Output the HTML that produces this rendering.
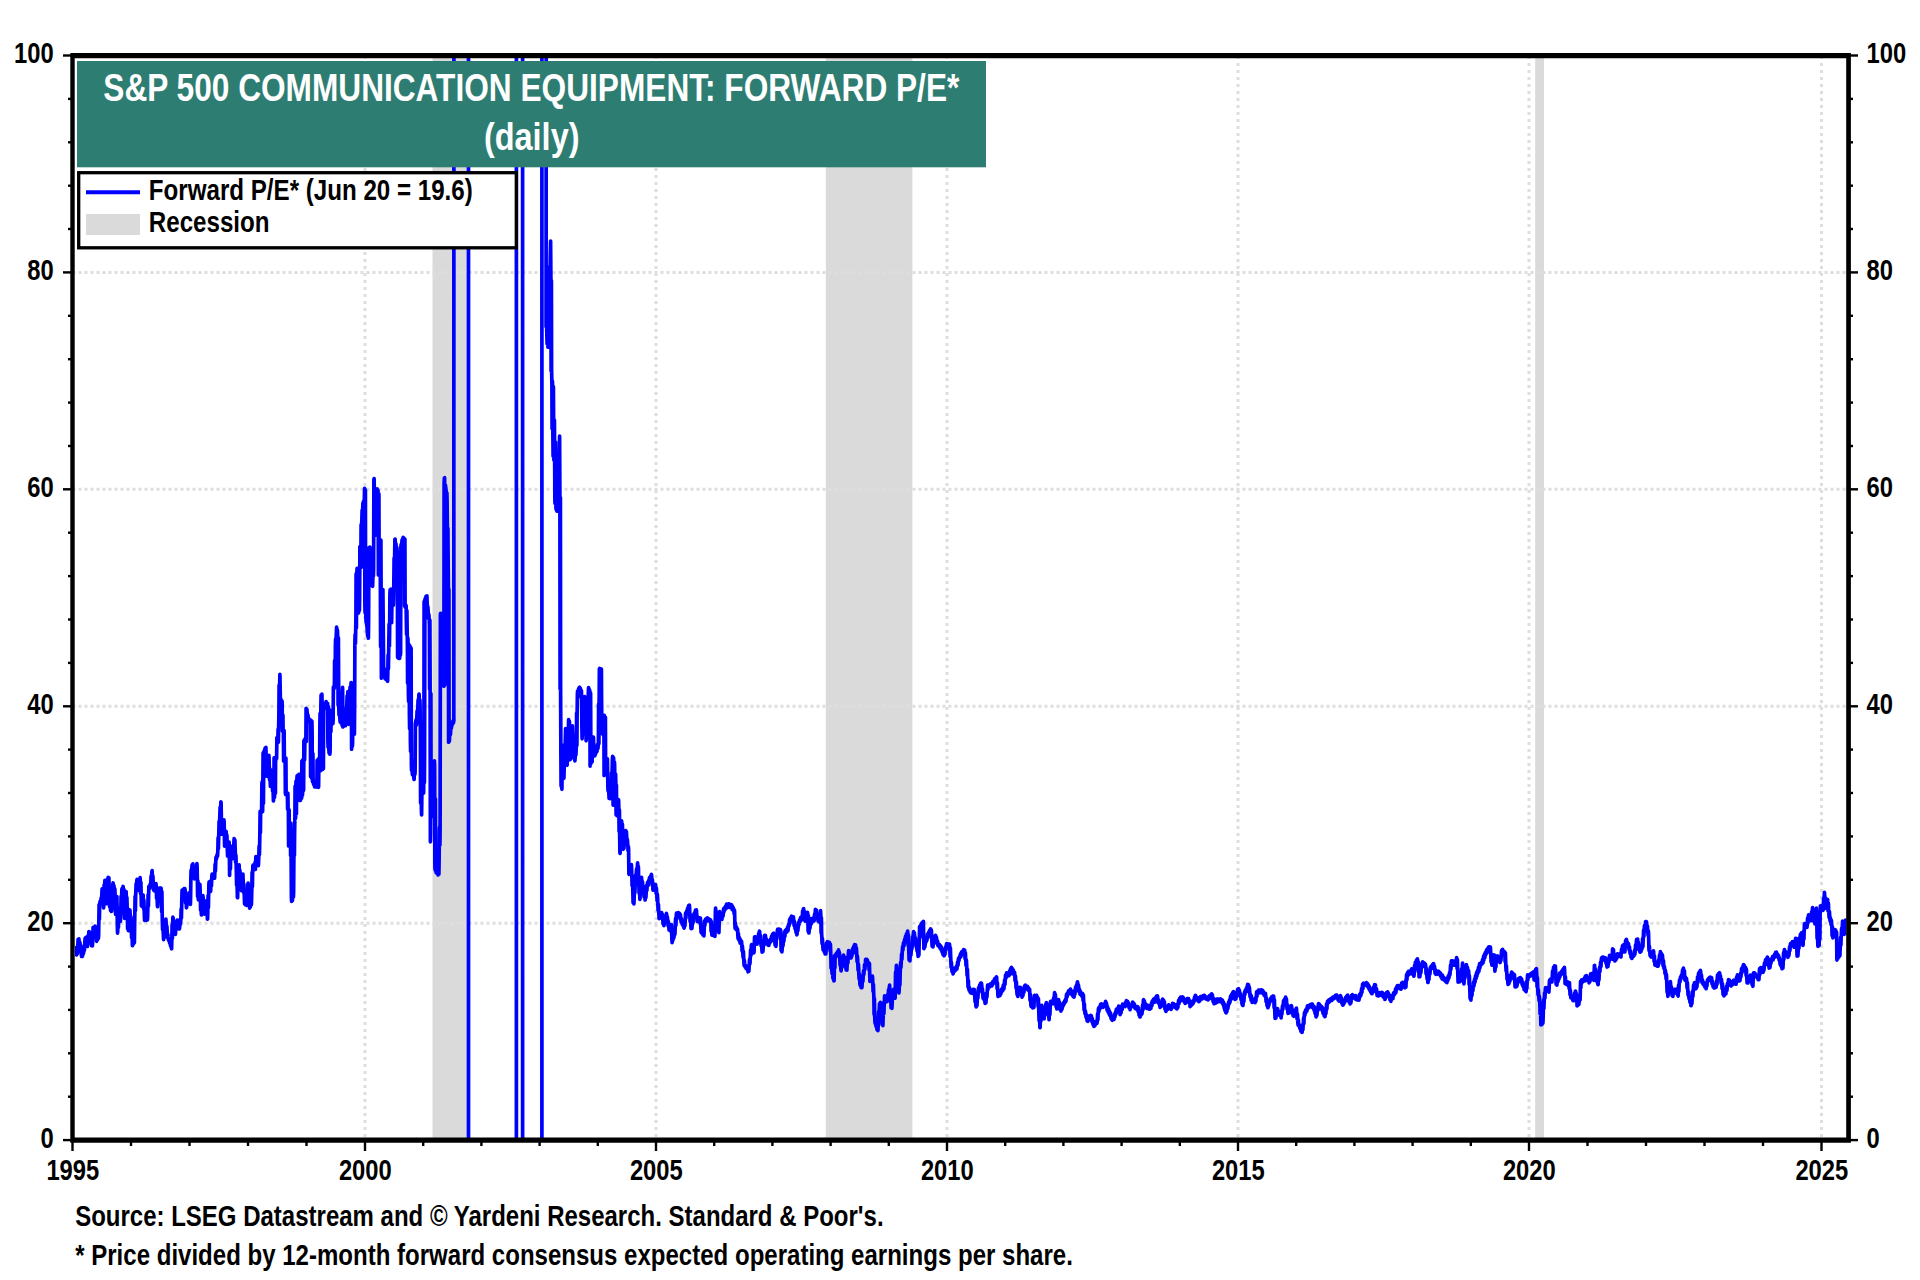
<!DOCTYPE html>
<html><head><meta charset="utf-8"><title>S&amp;P 500 Communication Equipment: Forward P/E</title>
<style>html,body{margin:0;padding:0;background:#fff}svg{display:block}</style></head>
<body>
<svg width="1920" height="1280" viewBox="0 0 1920 1280">
<rect width="1920" height="1280" fill="#fff"/>
<rect x="432.5" y="58" width="36.1" height="1080" fill="#dadada"/>
<rect x="825.8" y="58" width="86.6" height="1080" fill="#dadada"/>
<rect x="1535.2" y="58" width="8.8" height="1080" fill="#dadada"/>
<g stroke="#dedede" stroke-width="3" stroke-dasharray="3 4"><line stroke-dasharray="3 3" x1="72.5" x2="1846" y1="923.2" y2="923.2"/><line stroke-dasharray="3 3" x1="72.5" x2="1846" y1="706.3" y2="706.3"/><line stroke-dasharray="3 3" x1="72.5" x2="1846" y1="489.3" y2="489.3"/><line stroke-dasharray="3 3" x1="72.5" x2="1846" y1="272.4" y2="272.4"/><line x1="365.0" x2="365.0" y1="56.1" y2="1138"/><line x1="656.0" x2="656.0" y1="56.1" y2="1138"/><line x1="947.0" x2="947.0" y1="56.1" y2="1138"/><line x1="1238.0" x2="1238.0" y1="56.1" y2="1138"/><line x1="1529.0" x2="1529.0" y1="56.1" y2="1138"/><line x1="1821.5" x2="1821.5" y1="56.1" y2="1138"/></g>
<clipPath id="plot"><rect x="75" y="58" width="1771.5" height="1080"/></clipPath>
<polyline clip-path="url(#plot)" fill="none" stroke="#0000ff" stroke-width="3.7" stroke-linejoin="round" stroke-linecap="round" points="74.6,949.3 74.9,947.5 75.1,948.2 75.4,950.1 75.6,950.9 75.9,949.6 76.1,950.8 76.4,952.3 76.6,954.8 76.9,951.5 77.1,948.5 77.4,953.6 77.6,949.8 77.9,944.6 78.1,939.4 78.4,944.7 78.6,941.4 78.9,938.8 79.1,940.8 79.4,944.5 79.6,946.0 79.9,942.3 80.1,943.7 80.4,947.8 80.6,951.5 80.9,946.9 81.1,950.4 81.4,955.3 81.6,956.5 81.9,953.6 82.1,952.9 82.4,956.4 82.6,955.2 82.9,952.1 83.1,950.7 83.4,953.8 83.6,952.5 83.9,950.1 84.1,945.7 84.4,950.4 84.6,947.7 84.9,941.7 85.1,938.3 85.4,943.1 85.6,939.8 85.9,937.3 86.1,938.5 86.4,942.4 86.6,945.9 86.9,941.5 87.1,941.5 87.4,946.5 87.6,944.2 87.9,938.5 88.1,935.6 88.4,940.4 88.6,936.1 88.9,931.5 89.1,931.5 89.4,935.2 89.6,937.1 89.9,932.5 90.1,936.1 90.4,939.9 90.6,943.0 90.9,939.1 91.1,941.4 91.4,944.2 91.6,945.7 91.9,942.3 92.1,942.7 92.4,945.8 92.6,943.4 92.9,933.5 93.1,927.3 93.4,936.4 93.6,929.0 93.9,927.8 94.1,927.2 94.4,928.3 94.6,928.6 94.9,926.6 95.1,926.2 95.4,929.3 95.6,933.4 95.9,927.3 96.1,931.5 96.4,936.3 96.6,941.3 96.9,935.3 97.1,937.3 97.4,940.0 97.6,938.9 97.9,935.8 98.1,934.9 98.4,938.3 98.6,935.7 98.9,918.2 99.1,904.6 99.4,919.3 99.6,905.8 99.9,902.9 100.1,901.3 100.4,903.6 100.6,902.9 100.9,900.8 101.1,898.1 101.4,902.1 101.6,899.3 101.9,893.1 102.1,888.9 102.4,894.9 102.6,897.6 102.9,889.1 103.1,896.3 103.4,905.7 103.6,907.9 103.9,896.0 104.1,885.0 104.4,897.8 104.6,886.4 104.9,880.4 105.1,885.3 105.4,893.7 105.6,901.1 105.9,892.4 106.1,896.0 106.4,903.8 106.6,897.5 106.9,883.2 107.1,879.7 107.4,885.5 107.6,881.5 107.9,878.9 108.1,877.4 108.4,879.2 108.6,888.9 108.9,877.8 109.1,886.2 109.4,898.2 109.6,906.7 109.9,897.9 110.1,903.8 110.4,908.3 110.6,910.5 110.9,906.6 111.1,909.3 111.4,911.4 111.6,910.0 111.9,898.8 112.1,890.4 112.4,900.9 112.6,893.2 112.9,883.8 113.1,883.0 113.4,886.8 113.6,888.1 113.9,885.5 114.1,887.3 114.4,889.9 114.6,899.8 114.9,889.1 115.1,898.8 115.4,911.2 115.6,914.3 115.9,906.6 116.1,897.0 116.4,906.5 116.6,912.1 116.9,896.5 117.1,910.4 117.4,928.4 117.6,933.2 117.9,926.4 118.1,919.4 118.4,927.5 118.6,920.2 118.9,912.7 119.1,908.5 119.4,913.1 119.6,918.0 119.9,912.3 120.1,914.6 120.4,921.3 120.6,916.8 120.9,906.5 121.1,896.3 121.4,907.4 121.6,897.3 121.9,889.2 122.1,888.6 122.4,889.9 122.6,889.6 122.9,887.4 123.1,886.5 123.4,890.5 123.6,902.1 123.9,889.4 124.1,899.7 124.4,913.9 124.6,918.5 124.9,911.6 125.1,903.5 125.4,913.4 125.6,905.0 125.9,895.5 126.1,891.7 126.4,898.1 126.6,908.4 126.9,897.5 127.1,906.0 127.4,918.2 127.6,928.6 127.9,917.5 128.1,922.7 128.4,930.6 128.6,924.8 128.9,915.0 129.1,909.6 129.4,915.9 129.6,914.7 129.9,910.2 130.1,913.3 130.4,918.3 130.6,923.1 130.9,916.9 131.1,921.4 131.4,930.7 131.6,937.7 131.9,928.0 132.1,935.7 132.4,945.7 132.6,944.2 132.9,942.4 133.1,940.9 133.4,944.3 133.6,943.0 133.9,942.7 134.1,926.9 134.4,942.7 134.6,927.0 134.9,908.7 135.1,896.4 135.4,910.8 135.6,896.8 135.9,890.3 136.1,883.9 136.4,891.0 136.6,884.6 136.9,879.9 137.1,879.4 137.4,883.4 137.6,886.0 137.9,883.0 138.1,884.7 138.4,888.8 138.6,890.3 138.9,886.2 139.1,883.3 139.4,889.5 139.6,884.7 139.9,880.5 140.1,877.5 140.4,883.7 140.6,893.8 140.9,882.3 141.1,892.9 141.4,905.9 141.6,906.0 141.9,901.0 142.1,899.4 142.4,902.7 142.6,900.3 142.9,895.3 143.1,894.9 143.4,902.1 143.6,908.8 143.9,900.2 144.1,907.7 144.4,916.8 144.6,920.3 144.9,915.7 145.1,919.0 145.4,919.1 145.6,919.8 145.9,918.0 146.1,918.0 146.4,920.3 146.6,919.7 146.9,918.9 147.1,915.1 147.4,919.9 147.6,917.0 147.9,905.3 148.1,894.9 148.4,906.2 148.6,896.0 148.9,886.3 149.1,886.9 149.4,888.2 149.6,888.4 149.9,886.3 150.1,884.3 150.4,887.0 150.6,885.9 150.9,880.8 151.1,876.1 151.4,881.4 151.6,876.5 151.9,871.5 152.1,870.5 152.4,876.9 152.6,882.8 152.9,876.2 153.1,880.7 153.4,888.5 153.6,890.0 153.9,886.9 154.1,886.0 154.4,890.8 154.6,887.2 154.9,885.5 155.1,884.0 155.4,886.9 155.6,885.2 155.9,883.5 156.1,884.9 156.4,892.2 156.6,898.4 156.9,890.8 157.1,897.1 157.4,905.4 157.6,906.6 157.9,899.1 158.1,894.3 158.4,901.2 158.6,895.5 158.9,890.1 159.1,888.2 159.4,890.0 159.6,890.5 159.9,888.4 160.1,888.1 160.4,890.2 160.6,889.7 160.9,888.1 161.1,888.3 161.4,893.8 161.6,911.7 161.9,891.6 162.1,910.1 162.4,923.3 162.6,929.8 162.9,921.0 163.1,928.5 163.4,936.2 163.6,939.7 163.9,935.9 164.1,931.7 164.4,937.5 164.6,932.9 164.9,925.3 165.1,920.6 165.4,927.7 165.6,923.7 165.9,919.0 166.1,922.2 166.4,927.0 166.6,931.6 166.9,926.3 167.1,930.7 167.4,935.0 167.6,937.6 167.9,934.6 168.1,937.0 168.4,939.5 168.6,940.3 168.9,938.5 169.1,938.7 169.4,941.4 169.6,943.1 169.9,940.0 170.1,941.4 170.4,944.7 170.6,946.1 170.9,943.1 171.1,945.6 171.4,948.0 171.6,948.8 171.9,936.7 172.1,924.8 172.4,938.5 172.6,925.6 172.9,917.1 173.1,918.0 173.4,923.2 173.6,927.1 173.9,922.9 174.1,926.2 174.4,930.8 174.6,934.2 174.9,928.3 175.1,929.7 175.4,934.5 175.6,931.3 175.9,926.7 176.1,923.3 176.4,928.8 176.6,924.8 176.9,921.0 177.1,920.2 177.4,922.8 177.6,924.5 177.9,920.4 178.1,923.8 178.4,925.7 178.6,929.0 178.9,924.7 179.1,927.1 179.4,929.0 179.6,927.9 179.9,924.2 180.1,919.6 180.4,924.4 180.6,922.5 180.9,917.7 181.1,909.2 181.4,918.3 181.6,909.7 181.9,895.7 182.1,890.0 182.4,897.3 182.6,891.0 182.9,889.9 183.1,889.6 183.4,890.8 183.6,890.2 183.9,889.4 184.1,888.7 184.4,890.7 184.6,891.1 184.9,888.7 185.1,890.0 185.4,896.6 185.6,903.0 185.9,894.5 186.1,899.9 186.4,907.8 186.6,907.5 186.9,903.5 187.1,900.0 187.4,904.4 187.6,901.1 187.9,897.8 188.1,894.3 188.4,898.1 188.6,896.3 188.9,892.9 189.1,894.9 189.4,899.0 189.6,902.5 189.9,896.8 190.1,895.7 190.4,904.5 190.6,896.5 190.9,876.6 191.1,870.1 191.4,878.1 191.6,872.4 191.9,867.6 192.1,864.8 192.4,868.3 192.6,868.3 192.9,863.8 193.1,866.3 193.4,872.3 193.6,877.9 193.9,871.7 194.1,876.0 194.4,878.8 194.6,877.9 194.9,874.5 195.1,870.9 195.4,874.8 195.6,872.8 195.9,869.1 196.1,866.2 196.4,870.3 196.6,869.3 196.9,863.7 197.1,866.6 197.4,882.0 197.6,896.4 197.9,880.9 198.1,895.5 198.4,899.9 198.6,896.4 198.9,890.9 199.1,885.4 199.4,891.4 199.6,891.5 199.9,884.3 200.1,889.8 200.4,900.3 200.6,910.2 200.9,899.1 201.1,908.5 201.4,915.0 201.6,912.3 201.9,905.6 202.1,899.6 202.4,907.9 202.6,900.7 202.9,895.6 203.1,897.6 203.4,903.4 203.6,907.7 203.9,901.9 204.1,905.6 204.4,911.8 204.6,914.1 204.9,910.6 205.1,907.1 205.4,911.5 205.6,907.0 205.9,902.7 206.1,900.8 206.4,907.2 206.6,912.9 206.9,903.9 207.1,910.7 207.4,919.1 207.6,918.7 207.9,906.1 208.1,895.5 208.4,907.6 208.6,896.5 208.9,884.2 209.1,881.9 209.4,885.4 209.6,887.3 209.9,884.9 210.1,886.5 210.4,890.7 210.6,891.4 210.9,886.0 211.1,880.3 211.4,886.0 211.6,881.6 211.9,876.1 212.1,874.2 212.4,877.3 212.6,877.4 212.9,875.3 213.1,875.8 213.4,877.2 213.6,876.9 213.9,875.5 214.1,875.4 214.4,877.1 214.6,878.1 214.9,870.9 215.1,864.2 215.4,871.3 215.6,866.2 215.9,858.3 216.1,857.1 216.4,859.3 216.6,857.5 216.9,855.5 217.1,854.7 217.4,856.4 217.6,855.5 217.9,848.3 218.1,837.8 218.4,848.6 218.6,840.3 218.9,830.0 219.1,821.3 219.4,831.1 219.6,823.1 219.9,813.5 220.1,807.4 220.4,815.4 220.6,808.3 220.9,801.8 221.1,803.2 221.4,821.9 221.6,834.1 221.9,820.0 222.1,828.7 222.4,834.2 222.6,830.3 222.9,825.1 223.1,822.4 223.4,826.9 223.6,823.2 223.9,819.8 224.1,821.9 224.4,834.8 224.6,846.2 224.9,833.6 225.1,839.0 225.4,845.9 225.6,841.3 225.9,834.1 226.1,831.4 226.4,836.2 226.6,843.5 226.9,835.2 227.1,842.3 227.4,851.0 227.6,856.2 227.9,849.0 228.1,848.6 228.4,853.5 228.6,850.2 228.9,845.7 229.1,842.0 229.4,855.6 229.6,875.5 229.9,854.6 230.1,856.6 230.4,868.9 230.6,857.7 230.9,846.2 231.1,847.1 231.4,851.3 231.6,855.5 231.9,850.4 232.1,853.3 232.4,858.6 232.6,858.5 232.9,852.2 233.1,846.8 233.4,853.3 233.6,848.4 233.9,842.9 234.1,838.6 234.4,843.9 234.6,848.1 234.9,840.1 235.1,847.2 235.4,855.2 235.6,862.5 235.9,855.2 236.1,862.1 236.4,873.8 236.6,885.2 236.9,873.5 237.1,884.9 237.4,897.4 237.6,897.6 237.9,885.7 238.1,876.3 238.4,887.3 238.6,877.5 238.9,866.0 239.1,864.9 239.4,871.1 239.6,877.0 239.9,870.4 240.1,875.4 240.4,882.2 240.6,889.0 240.9,881.6 241.1,884.5 241.4,890.6 241.6,886.4 241.9,881.3 242.1,876.5 242.4,882.4 242.6,879.4 242.9,874.1 243.1,879.1 243.4,886.5 243.6,892.4 243.9,884.4 244.1,890.9 244.4,898.5 244.6,903.9 244.9,897.1 245.1,902.2 245.4,904.7 245.6,904.7 245.9,903.7 246.1,903.5 246.4,904.8 246.6,905.3 246.9,898.5 247.1,891.1 247.4,899.8 247.6,892.9 247.9,884.5 248.1,883.0 248.4,891.1 248.6,898.8 248.9,888.9 249.1,895.9 249.4,905.2 249.6,908.1 249.9,903.5 250.1,904.9 250.4,906.9 250.6,905.5 250.9,903.0 251.1,896.6 251.4,904.8 251.6,897.9 251.9,885.6 252.1,872.3 252.4,886.8 252.6,873.6 252.9,865.7 253.1,865.2 253.4,868.0 253.6,867.8 253.9,866.0 254.1,866.6 254.4,868.9 254.6,869.5 254.9,868.1 255.1,862.4 255.4,869.4 255.6,863.4 255.9,856.5 256.1,856.7 256.4,859.8 256.6,860.0 256.9,857.9 257.1,858.6 257.4,862.5 257.6,864.2 257.9,860.9 258.1,860.3 258.4,865.6 258.6,861.2 258.9,854.0 259.1,846.2 259.4,854.6 259.6,847.9 259.9,831.4 260.1,811.4 260.4,832.8 260.6,813.8 260.9,810.8 261.1,810.6 261.4,812.5 261.6,812.0 261.9,784.5 262.1,781.8 262.4,810.7 262.6,811.5 262.9,779.6 263.1,752.9 263.4,803.4 263.6,779.3 263.9,752.3 264.1,750.9 264.4,776.8 264.6,751.1 264.9,749.3 265.1,748.2 265.4,750.5 265.6,755.6 265.9,747.4 266.1,754.7 266.4,764.7 266.6,773.5 266.9,763.4 267.1,771.7 267.4,776.4 267.6,772.8 267.9,765.6 268.1,759.3 268.4,765.6 268.6,761.3 268.9,755.3 269.1,760.2 269.4,771.4 269.6,780.0 269.9,768.9 270.1,779.7 270.4,786.3 270.6,785.0 270.9,777.6 271.1,774.8 271.4,780.6 271.6,776.0 271.9,770.7 272.1,773.2 272.4,782.6 272.6,791.1 272.9,782.3 273.1,790.1 273.4,801.0 273.6,799.5 273.9,795.6 274.1,757.9 274.4,797.5 274.6,795.1 274.9,757.5 275.1,757.8 275.4,793.3 275.6,759.0 275.9,757.9 276.1,757.4 276.4,759.0 276.6,758.1 276.9,737.5 277.1,739.0 277.4,741.2 277.6,743.1 277.9,739.9 278.1,729.2 278.4,742.1 278.6,729.9 278.9,711.7 279.1,685.2 279.4,712.3 279.6,686.8 279.9,674.3 280.1,684.9 280.4,701.5 280.6,701.5 280.9,700.9 281.1,699.6 281.4,716.7 281.6,716.9 281.9,701.2 282.1,701.2 282.4,730.8 282.6,731.3 282.9,715.1 283.1,730.3 283.4,732.0 283.6,760.9 283.9,730.4 284.1,730.7 284.4,760.5 284.6,760.6 284.9,758.6 285.1,757.7 285.4,793.0 285.6,794.5 285.9,758.0 286.1,791.8 286.4,794.9 286.6,793.2 286.9,792.4 287.1,793.2 287.4,794.0 287.6,809.3 287.9,793.3 288.1,808.1 288.4,810.3 288.6,846.0 288.9,809.5 289.1,810.0 289.4,843.7 289.6,836.4 289.9,830.2 290.1,825.1 290.4,830.7 290.6,855.4 290.9,823.0 291.1,854.7 291.4,896.6 291.6,901.4 291.9,894.9 292.1,897.9 292.4,900.5 292.6,898.1 292.9,895.9 293.1,890.9 293.4,897.2 293.6,892.4 293.9,854.9 294.1,831.2 294.4,855.6 294.6,832.5 294.9,816.7 295.1,786.3 295.4,818.7 295.6,816.5 295.9,783.8 296.1,781.0 296.4,814.0 296.6,781.7 296.9,779.5 297.1,775.8 297.4,780.1 297.6,776.9 297.9,775.0 298.1,775.1 298.4,776.4 298.6,776.2 298.9,775.0 299.1,774.3 299.4,776.1 299.6,800.3 299.9,775.3 300.1,798.5 300.4,800.4 300.6,799.0 300.9,797.6 301.1,796.5 301.4,797.7 301.6,798.2 301.9,761.0 302.1,760.8 302.4,795.4 302.6,793.0 302.9,759.9 303.1,759.6 303.4,790.7 303.6,789.5 303.9,741.6 304.1,740.3 304.4,760.2 304.6,759.6 304.9,739.6 305.1,738.8 305.4,741.2 305.6,741.2 305.9,740.4 306.1,708.3 306.4,741.6 306.6,713.5 306.9,709.3 307.1,711.7 307.4,716.7 307.6,718.2 307.9,714.9 308.1,716.1 308.4,720.1 308.6,720.9 308.9,718.5 309.1,719.6 309.4,721.4 309.6,721.1 309.9,719.8 310.1,719.6 310.4,722.0 310.6,776.5 310.9,720.9 311.1,720.8 311.4,777.2 311.6,778.1 311.9,721.2 312.1,732.6 312.4,779.6 312.6,781.7 312.9,753.7 313.1,779.7 313.4,782.3 313.6,784.4 313.9,781.5 314.1,783.3 314.4,785.1 314.6,786.8 314.9,784.1 315.1,785.0 315.4,786.4 315.6,786.7 315.9,784.5 316.1,783.5 316.4,786.3 316.6,786.9 316.9,784.6 317.1,760.3 317.4,786.0 317.6,785.9 317.9,760.0 318.1,759.3 318.4,787.4 318.6,786.4 318.9,758.5 319.1,758.1 319.4,760.7 319.6,765.9 319.9,723.2 320.1,713.4 320.4,770.9 320.6,769.9 320.9,704.2 321.1,695.1 321.4,770.0 321.6,769.2 321.9,694.0 322.1,703.7 322.4,768.5 322.6,769.4 322.9,714.9 323.1,708.3 323.4,768.5 323.6,708.9 323.9,707.5 324.1,706.0 324.4,708.8 324.6,707.5 324.9,704.5 325.1,703.7 325.4,705.9 325.6,704.8 325.9,702.9 326.1,701.5 326.4,703.2 327.1,705.1 327.4,703.3 327.6,703.5 327.9,741.1 328.1,747.3 328.4,706.7 328.6,743.3 328.9,749.8 329.1,753.2 329.4,748.9 329.6,710.0 329.9,754.2 330.1,750.2 330.4,710.4 330.6,714.9 330.9,731.6 331.1,721.5 331.4,718.8 331.6,719.1 331.9,721.1 332.1,723.0 332.4,720.6 332.6,711.3 332.9,723.6 333.1,720.1 333.4,686.9 333.6,687.5 333.9,689.0 334.1,687.2 334.4,686.7 334.6,660.5 334.9,687.2 335.1,687.0 335.4,645.9 335.6,639.1 335.9,653.5 336.1,639.3 336.4,632.1 336.6,627.1 336.9,632.2 337.1,635.4 337.4,629.9 337.6,634.5 337.9,641.1 338.1,705.1 338.4,637.8 338.6,677.7 338.9,711.6 339.1,715.1 339.4,709.0 339.6,713.9 339.9,718.4 340.1,722.0 340.4,716.8 340.6,715.9 340.9,722.9 341.1,716.4 341.4,707.8 341.6,707.8 341.9,709.9 342.1,725.6 342.4,693.3 342.6,687.4 342.9,727.0 343.6,726.3 343.9,725.0 345.1,723.1 345.4,725.7 345.6,724.1 345.9,716.5 346.1,708.5 346.4,716.3 346.6,709.5 346.9,702.8 347.1,695.8 347.4,703.7 347.6,707.0 347.9,691.5 348.1,705.4 348.4,724.3 348.6,723.1 348.9,711.2 349.1,700.4 349.4,711.1 349.6,701.2 349.9,690.5 350.1,687.0 350.4,690.1 350.6,688.1 350.9,686.3 351.1,682.6 351.4,686.7 351.6,749.2 351.9,683.2 352.1,689.8 352.4,746.2 352.6,742.2 352.9,705.6 354.1,708.8 354.4,734.2 354.6,710.4 354.9,642.0 355.1,634.5 355.4,643.7 355.6,635.1 355.9,619.7 356.1,573.9 356.4,627.9 356.6,577.6 356.9,572.0 357.1,568.4 357.4,572.9 357.6,604.9 357.9,568.9 358.1,604.0 358.4,613.1 358.6,612.4 358.9,610.4 359.1,597.5 359.4,610.4 359.6,599.2 359.9,546.6 360.1,547.2 360.4,555.5 360.6,563.3 360.9,554.4 361.1,524.7 361.4,567.3 361.6,526.9 361.9,518.9 362.1,510.3 362.4,519.2 362.6,511.7 362.9,503.6 363.6,501.3 363.9,503.6 364.1,535.5 364.4,495.2 364.6,488.4 364.9,606.1 365.1,612.8 365.4,489.9 365.6,606.7 365.9,617.3 366.1,622.2 366.4,615.9 366.6,620.9 366.9,625.6 367.6,636.0 367.9,623.9 368.1,567.9 368.4,638.2 368.6,620.3 368.9,551.3 369.1,547.5 369.4,560.4 369.6,550.6 369.9,547.1 370.1,549.9 370.4,552.7 370.6,555.0 370.9,551.8 371.1,552.7 371.4,562.1 371.6,575.6 371.9,559.0 372.1,573.0 372.4,586.1 372.6,586.3 372.9,576.7 373.1,567.1 373.4,576.1 373.6,568.7 373.9,479.8 374.1,478.5 374.4,496.2 374.6,515.5 374.9,496.1 375.1,513.8 375.4,531.7 375.6,535.2 375.9,525.0 376.1,509.5 376.4,524.6 376.6,512.9 376.9,495.5 377.1,488.8 377.4,497.1 377.6,493.2 377.9,490.2 378.1,492.6 378.4,575.0 378.6,549.2 378.9,493.9 379.1,549.6 379.4,570.7 379.6,571.9 379.9,549.3 380.1,542.0 380.4,591.1 380.6,646.5 380.9,540.2 381.1,589.9 381.4,678.2 381.6,676.0 381.9,590.0 382.1,603.5 382.4,667.1 382.6,591.3 382.9,589.6 383.6,666.7 383.9,670.3 384.1,674.6 384.4,668.9 384.6,673.2 384.9,677.2 385.1,678.7 385.4,677.1 385.6,676.6 385.9,678.8 386.1,679.5 386.4,677.7 387.1,678.9 387.4,680.1 387.6,681.3 387.9,667.4 388.1,655.1 388.4,669.0 388.6,656.8 388.9,638.0 389.1,624.2 389.4,646.1 389.6,632.2 389.9,594.9 390.1,589.8 390.4,623.2 390.6,622.5 390.9,589.2 391.1,604.2 391.4,622.5 391.6,622.8 391.9,604.4 393.1,596.0 393.4,605.2 393.6,596.8 393.9,576.9 394.1,558.0 394.4,578.2 394.6,559.7 394.9,539.4 395.1,539.1 395.4,543.8 395.6,545.9 395.9,543.7 396.1,545.6 396.4,549.0 396.6,551.7 396.9,547.6 397.1,550.4 397.4,575.9 397.6,657.3 397.9,552.7 398.1,597.8 398.4,658.1 399.6,658.4 399.9,653.8 400.1,650.0 400.4,655.2 400.6,652.3 400.9,546.7 401.1,544.6 401.4,548.0 401.6,545.9 401.9,541.8 402.1,539.8 402.4,544.1 402.6,542.5 402.9,538.8 403.1,537.4 403.4,539.6 403.6,540.1 403.9,538.2 404.1,539.8 404.4,541.1 404.6,606.1 404.9,539.0 405.1,603.5 405.4,606.2 405.6,607.8 405.9,605.4 406.1,605.5 406.4,623.1 406.6,634.4 406.9,610.6 407.1,627.1 407.4,643.4 407.6,683.1 407.9,638.1 408.1,644.1 408.4,692.4 408.6,701.4 408.9,644.4 409.1,645.9 409.4,714.0 409.6,728.7 409.9,645.9 410.1,646.9 410.4,740.9 410.6,751.5 410.9,647.9 411.1,648.5 411.4,765.3 411.6,770.4 411.9,761.7 412.1,768.3 412.4,774.5 412.6,774.9 412.9,774.0 413.6,774.3 413.9,777.9 414.1,779.5 414.4,772.1 414.6,766.7 414.9,774.5 415.1,771.3 415.4,724.1 416.1,719.7 416.4,725.0 416.6,723.1 416.9,715.8 417.1,710.9 417.4,716.9 417.6,712.3 417.9,705.3 418.1,699.9 418.4,705.7 418.6,700.8 418.9,694.7 419.1,694.1 419.4,704.5 419.6,713.4 419.9,700.1 420.1,708.7 420.4,734.8 420.6,802.9 420.9,722.4 421.1,747.7 421.4,809.2 421.6,814.9 421.9,792.3 422.1,791.9 422.4,793.6 423.6,793.1 423.9,766.4 424.1,601.6 424.4,782.6 424.6,753.2 424.9,600.0 425.1,598.7 425.4,601.9 425.6,600.0 425.9,597.1 426.1,596.3 426.4,598.3 426.6,602.2 426.9,595.8 427.1,601.1 427.4,607.4 427.6,612.3 427.9,606.9 428.1,610.0 428.4,616.3 428.6,618.9 428.9,614.5 429.1,618.2 429.4,625.1 429.6,689.2 429.9,620.1 430.1,681.5 430.4,841.8 430.6,832.7 430.9,693.5 431.1,809.0 431.4,817.0 432.1,810.1 432.4,802.4 432.6,790.8 432.9,802.6 433.1,792.9 433.4,780.9 433.6,780.9 433.9,781.9 434.1,781.2 434.4,760.9 434.6,765.9 434.9,867.1 435.1,869.9 435.4,798.9 435.6,868.9 435.9,870.9 436.1,872.5 436.4,868.7 436.6,870.3 436.9,872.0 437.1,873.4 437.4,871.7 437.6,872.3 437.9,874.0 438.1,875.0 438.4,872.9 438.6,859.7 438.9,874.1 439.1,860.6 439.4,830.4 439.6,827.0 439.9,845.3 440.1,828.4 440.4,614.9 440.6,613.3 440.9,632.4 442.1,684.9 442.4,632.6 443.6,684.4 443.9,686.2 444.1,483.6 444.4,477.9 444.6,477.8 444.9,684.8 445.1,490.6 445.4,485.0 446.1,490.6 446.4,494.4 446.6,503.1 446.9,492.8 447.1,502.5 447.4,530.9 447.6,558.2 447.9,528.3 448.1,556.6 448.4,590.3 448.6,742.2 448.9,589.3 449.1,735.9 449.4,741.2 449.6,736.0 449.9,733.5 450.1,729.2 450.4,734.7 450.6,732.0 450.9,725.4 451.1,723.7 451.4,728.2 451.6,726.0 451.9,723.5 452.1,722.9 452.4,724.6 452.6,723.1 452.9,721.0 453.1,720.9 453.4,723.0 453.6,721.9 453.9,720.0 453.8,721.2 453.9,40.0 468.5,40.0 468.5,1160.0 516.4,1160.0 516.4,40.0 522.6,40.0 522.6,1160.0 541.9,1160.0 541.9,40.0 546.2,40.0 546.1,318.1 546.1,326.7 546.4,318.1 546.6,325.3 546.9,336.1 547.1,344.0 547.4,334.5 547.6,334.4 547.9,347.1 548.1,335.6 548.4,318.1 548.6,299.4 548.9,318.2 549.1,302.5 549.4,283.5 549.6,266.6 549.9,284.5 550.1,268.2 550.4,250.2 550.6,241.1 550.9,281.2 551.1,370.9 551.4,280.7 551.6,370.0 551.9,383.9 552.1,428.7 552.4,381.2 552.6,385.4 552.9,437.1 553.1,456.3 553.4,386.7 553.6,421.1 553.9,460.0 554.1,456.3 554.4,420.0 554.6,448.8 554.9,501.6 555.1,503.6 555.4,445.2 555.6,442.0 555.9,506.3 556.1,509.5 556.4,506.0 556.6,506.0 556.9,511.1 557.1,508.0 557.4,502.0 557.6,497.0 557.9,502.7 558.1,497.7 558.4,486.0 558.6,468.2 558.9,488.1 559.1,469.3 559.4,449.6 559.6,436.2 559.9,498.9 560.1,689.0 560.4,497.5 560.6,687.7 560.9,757.0 561.1,786.1 561.4,755.8 561.6,770.1 561.9,789.3 562.1,772.5 562.4,751.3 562.6,745.2 562.9,756.9 563.1,770.8 563.4,754.2 563.6,770.0 563.9,778.3 564.1,772.5 564.4,760.7 564.6,749.0 564.9,761.4 565.1,749.8 565.4,736.2 565.6,728.7 565.9,736.4 566.1,747.2 566.4,733.7 566.6,745.3 566.9,758.0 567.1,765.3 567.4,756.7 567.6,744.8 567.9,760.7 568.1,747.7 568.4,730.1 568.6,719.7 568.9,731.7 569.1,735.3 569.4,721.0 569.6,733.4 569.9,747.6 570.1,759.6 570.4,745.2 570.6,746.7 570.9,758.4 571.1,748.4 571.4,737.2 571.6,726.9 571.9,739.0 572.1,733.3 572.4,725.8 572.6,731.6 572.9,740.1 573.1,747.2 573.4,738.8 573.6,744.7 573.9,751.5 574.1,758.3 574.4,750.8 574.6,757.2 574.9,760.9 575.1,758.6 575.4,752.6 575.6,748.5 575.9,755.0 576.1,750.8 576.4,744.1 576.6,713.2 576.9,745.5 577.1,714.5 577.4,693.8 577.6,691.0 577.9,693.9 578.1,692.8 578.4,690.4 578.6,688.6 578.9,691.0 579.1,690.0 579.4,687.4 579.6,687.2 579.9,690.6 580.1,690.4 580.4,688.3 580.6,689.6 580.9,691.2 581.1,697.6 581.4,690.6 581.6,696.9 581.9,727.9 582.1,738.8 582.4,725.7 582.6,723.8 582.9,733.9 583.1,725.0 583.4,716.1 583.6,707.0 583.9,716.9 584.1,708.6 584.4,698.0 584.6,696.5 584.9,709.2 585.1,721.1 585.4,708.3 585.6,719.9 585.9,731.3 586.1,740.8 586.4,730.1 586.6,722.0 586.9,738.3 587.1,723.0 587.4,707.1 587.6,697.3 587.9,708.3 588.1,699.4 588.4,690.8 588.6,687.7 588.9,692.6 589.1,691.3 589.4,689.6 589.6,690.0 589.9,693.5 590.1,766.1 590.4,692.6 590.6,693.4 590.9,763.5 591.1,762.7 591.4,760.7 591.6,760.1 591.9,762.0 592.1,761.8 592.4,754.4 592.6,740.6 592.9,756.1 593.1,741.8 593.4,737.1 593.6,741.1 593.9,747.7 594.1,753.7 594.4,747.1 594.6,751.6 594.9,755.8 595.1,754.6 595.4,752.8 595.6,750.7 595.9,753.3 596.1,752.6 596.4,750.5 596.6,749.0 596.9,751.5 597.1,750.6 597.4,746.7 597.6,744.3 597.9,748.5 598.1,746.5 598.4,743.5 598.6,704.0 598.9,743.8 599.1,705.0 599.4,668.9 599.6,668.5 599.9,671.2 600.1,671.0 600.4,669.1 600.6,668.9 600.9,670.8 601.1,704.1 601.4,669.0 601.6,702.0 601.9,733.6 602.1,733.4 602.4,731.7 602.6,732.2 602.9,733.3 603.1,734.8 603.4,715.0 603.6,715.4 603.9,717.6 604.1,775.5 604.4,715.4 604.6,716.8 604.9,773.9 605.1,771.7 605.4,717.3 605.6,765.2 605.9,769.2 606.1,766.7 606.4,762.7 606.6,759.1 606.9,764.1 607.1,770.2 607.4,758.9 607.6,770.1 607.9,787.1 608.1,791.0 608.4,785.5 608.6,790.1 608.9,793.9 609.1,798.3 609.4,792.8 609.6,795.8 609.9,798.6 610.1,798.0 610.4,795.7 610.6,794.0 610.9,796.6 611.1,795.7 611.4,784.7 611.6,772.6 611.9,785.8 612.1,773.2 612.4,759.8 612.6,756.3 612.9,760.3 613.1,805.1 613.4,757.5 613.6,758.3 613.9,804.4 614.1,798.1 614.4,762.0 614.6,764.3 614.9,791.4 615.1,784.7 615.4,777.9 615.6,774.2 615.9,786.6 616.1,814.7 616.4,785.1 616.6,810.3 616.9,815.6 617.1,812.0 617.4,807.1 617.6,803.7 617.9,809.7 618.1,806.4 618.4,800.8 618.6,799.7 618.9,811.5 619.1,831.6 619.4,809.8 619.6,830.6 619.9,852.9 620.1,853.4 620.4,843.0 620.6,836.6 620.9,844.4 621.1,837.4 621.4,828.6 621.6,820.9 621.9,829.5 622.1,833.5 622.4,824.2 622.6,833.0 622.9,842.0 623.1,849.3 623.4,840.3 623.6,842.9 623.9,848.3 624.1,844.6 624.4,840.7 624.6,836.6 624.9,841.0 625.1,838.4 625.4,831.7 625.6,830.5 625.9,833.1 626.1,836.6 626.4,831.6 626.6,835.6 626.9,839.7 627.1,843.4 627.4,839.6 627.6,842.5 627.9,847.3 628.1,851.0 628.4,846.6 628.6,849.7 628.9,873.9 629.1,874.4 629.4,870.6 629.6,868.8 629.9,872.6 630.1,869.9 630.4,866.8 630.6,865.2 630.9,868.1 631.1,870.1 631.4,864.7 631.6,868.2 631.9,878.5 632.1,885.8 632.4,876.6 632.6,885.0 632.9,894.3 633.1,902.6 633.4,893.4 633.6,898.2 633.9,903.9 634.1,899.4 634.4,890.8 634.6,885.9 634.9,892.6 635.1,886.4 635.4,878.5 635.6,875.0 635.9,880.0 636.1,876.6 636.4,871.3 636.6,868.9 636.9,873.7 637.1,870.8 637.4,866.2 637.6,862.9 637.9,867.9 638.1,877.0 638.4,866.7 638.6,876.0 638.9,886.5 639.1,893.2 639.4,883.3 639.6,893.1 639.9,899.4 640.1,897.2 640.4,890.0 640.6,883.7 640.9,891.1 641.1,884.4 641.4,877.3 641.6,878.0 641.9,883.2 642.1,884.3 642.4,881.5 642.6,883.1 642.9,888.3 643.1,889.9 643.4,886.6 643.6,888.9 643.9,894.2 644.1,897.0 644.4,891.9 644.6,894.3 644.9,897.5 645.1,900.0 645.4,896.1 645.6,893.0 645.9,897.7 646.1,893.6 646.4,888.1 646.6,885.4 646.9,890.3 647.1,886.6 647.4,884.4 647.6,882.3 647.9,885.3 648.1,885.5 648.4,881.7 648.6,880.5 648.9,881.8 649.1,881.5 649.4,878.3 649.6,877.7 649.9,880.4 650.1,878.9 650.4,877.8 650.6,876.1 650.9,879.0 651.1,877.7 651.4,874.3 651.6,875.8 651.9,880.2 652.1,884.9 652.4,879.8 652.6,882.7 652.9,889.2 653.1,890.2 653.4,886.3 653.6,887.4 653.9,889.6 654.1,888.7 654.4,884.6 654.6,884.6 654.9,887.8 655.1,885.7 655.4,884.6 655.6,885.0 655.9,889.1 656.1,893.3 656.4,888.1 656.6,891.5 656.9,896.1 657.1,900.9 657.4,894.4 657.6,898.2 657.9,905.7 658.1,910.3 658.4,904.3 658.6,908.3 658.9,914.7 659.1,918.7 659.4,913.1 659.6,916.3 659.9,917.4 660.1,916.1 660.4,912.9 660.6,914.2 660.9,915.5 661.1,915.0 661.4,912.9 661.6,912.6 661.9,914.5 662.1,918.5 662.4,914.3 662.6,917.0 662.9,920.9 663.1,923.9 663.4,920.8 663.6,923.0 663.9,925.6 664.1,924.9 664.4,921.3 664.6,918.4 664.9,922.4 665.1,921.1 665.4,918.0 665.6,915.9 665.9,918.4 666.1,916.4 666.4,913.4 666.6,914.1 666.9,918.1 667.1,920.2 667.4,917.1 667.6,919.8 667.9,922.5 668.1,926.0 668.4,921.5 668.6,923.9 668.9,928.2 669.1,930.0 669.4,926.7 669.6,927.6 669.9,930.3 670.1,929.5 670.4,926.7 670.6,925.6 670.9,927.0 671.1,932.0 671.4,924.6 671.6,930.4 671.9,939.1 672.1,942.7 672.4,937.1 672.6,936.5 672.9,940.3 673.1,938.9 673.4,936.8 673.6,935.2 673.9,937.7 674.1,936.0 674.4,932.5 674.6,929.0 674.9,934.3 675.1,930.1 675.4,923.1 675.6,918.4 675.9,925.3 676.1,921.0 676.4,914.0 676.6,913.1 676.9,915.6 677.1,915.3 677.4,913.2 677.6,914.2 677.9,915.7 678.1,915.7 678.4,912.7 678.6,914.2 678.9,915.9 679.1,916.4 679.4,913.3 679.6,913.6 679.9,916.8 680.1,918.7 680.4,914.7 680.6,917.3 680.9,920.3 681.1,921.6 681.4,918.6 681.6,920.2 681.9,922.4 682.1,924.0 682.4,920.9 682.6,922.9 682.9,924.9 683.1,925.8 683.4,924.1 683.6,924.8 683.9,927.2 684.1,928.1 684.4,925.9 684.6,921.2 684.9,925.9 685.1,922.3 685.4,917.4 685.6,913.2 685.9,918.2 686.1,914.3 686.4,912.8 686.6,911.1 686.9,913.9 687.1,912.8 687.4,909.5 687.6,908.2 687.9,911.0 688.1,911.0 688.4,907.8 688.6,905.7 688.9,908.6 689.1,911.4 689.4,905.0 689.6,908.4 689.9,916.8 690.1,921.4 690.4,914.8 690.6,918.9 690.9,926.3 691.1,928.7 691.4,923.6 691.6,924.9 691.9,928.3 692.1,925.6 692.4,922.5 692.6,919.7 692.9,923.3 693.1,921.0 693.4,917.2 693.6,914.5 693.9,917.4 694.1,916.5 694.4,913.3 694.6,912.8 694.9,914.1 695.1,914.1 695.4,910.7 695.6,910.1 695.9,911.9 696.1,914.1 696.4,909.9 696.6,913.0 696.9,917.4 697.1,921.4 697.4,916.5 697.6,919.7 697.9,921.6 698.1,921.5 698.4,920.1 698.6,918.8 698.9,921.1 699.1,919.6 699.4,917.9 699.6,918.4 699.9,919.0 700.1,923.3 700.4,918.1 700.6,922.2 700.9,928.6 701.1,932.4 701.4,926.3 701.6,931.0 701.9,933.3 702.1,933.5 702.4,931.5 702.6,932.6 702.9,934.8 703.1,934.1 703.4,932.1 703.6,932.0 703.9,935.8 704.1,932.3 704.4,923.9 704.6,920.8 704.9,925.3 705.1,921.5 705.4,920.4 705.6,919.1 705.9,922.0 706.1,921.1 706.4,919.1 706.6,918.5 706.9,920.9 707.1,920.6 707.4,917.8 707.6,918.4 707.9,919.7 708.1,920.7 708.4,918.5 708.6,919.3 708.9,920.3 709.1,920.8 709.4,919.7 709.6,919.3 709.9,921.3 710.1,921.4 710.4,919.7 710.6,920.7 710.9,923.6 711.1,931.2 711.4,921.5 711.6,928.7 711.9,935.2 712.1,935.0 712.4,933.8 712.6,934.0 712.9,935.4 713.1,935.2 713.4,932.9 713.6,933.3 713.9,934.6 714.1,935.8 714.4,933.6 714.6,928.9 714.9,936.4 715.1,930.6 715.4,911.4 715.6,908.0 715.9,912.8 716.1,915.7 716.4,911.7 716.6,914.7 716.9,919.9 717.1,923.6 717.4,918.4 717.6,921.4 717.9,926.1 718.1,930.6 718.4,926.1 718.6,925.7 718.9,932.6 719.1,926.5 719.4,912.9 719.6,911.6 719.9,915.0 720.1,915.4 720.4,913.5 720.6,914.2 720.9,917.1 721.1,918.3 721.4,915.8 721.6,917.3 721.9,919.4 722.1,917.8 722.4,914.6 722.6,913.6 722.9,916.6 723.1,915.1 723.4,911.2 723.6,908.7 723.9,912.1 724.1,910.1 724.4,907.8 724.6,908.2 724.9,909.9 725.1,908.6 725.4,907.3 725.6,906.0 725.9,908.0 726.1,907.7 726.4,905.7 726.6,904.1 726.9,907.9 727.1,907.3 727.4,905.8 727.6,905.0 727.9,907.4 728.1,905.7 728.4,903.9 728.6,905.2 728.9,906.0 729.1,906.2 729.4,904.6 729.6,904.1 729.9,906.1 730.1,907.4 730.4,905.8 730.6,904.8 730.9,907.5 731.1,907.8 731.4,905.2 731.6,904.8 731.9,908.2 732.1,909.4 732.4,906.3 732.6,906.5 732.9,910.2 733.1,910.0 733.4,908.1 733.6,909.7 733.9,911.1 734.1,913.7 734.4,910.1 734.6,911.7 734.9,924.7 735.1,928.3 735.4,923.2 735.6,927.3 735.9,928.3 736.1,929.4 736.4,926.9 736.6,927.9 736.9,929.9 737.1,930.6 737.4,928.9 737.6,929.7 737.9,936.1 738.1,938.7 738.4,933.7 738.6,937.3 738.9,940.0 739.1,939.4 739.4,937.6 739.6,938.7 739.9,941.0 740.1,943.1 740.4,939.5 740.6,941.1 740.9,942.9 741.1,943.3 741.4,941.2 741.6,942.2 741.9,946.2 742.1,950.8 742.4,946.2 742.6,948.8 742.9,954.1 743.1,957.3 743.4,951.4 743.6,956.2 743.9,961.7 744.1,965.3 744.4,960.3 744.6,963.4 744.9,965.7 745.1,966.8 745.4,965.2 745.6,965.6 745.9,967.7 746.1,968.6 746.4,966.3 746.6,966.5 746.9,968.8 747.1,969.2 747.4,967.5 747.6,969.1 747.9,970.7 748.1,971.8 748.4,969.2 748.6,966.4 748.9,971.2 749.1,966.6 749.4,962.1 749.6,959.1 749.9,963.9 750.1,960.7 750.4,954.9 750.6,950.0 750.9,955.7 751.1,951.2 751.4,945.1 751.6,944.6 751.9,946.2 752.1,948.3 752.4,945.8 752.6,946.7 752.9,949.6 753.1,951.7 753.4,947.4 753.6,950.0 753.9,952.8 754.1,951.3 754.4,941.0 754.6,936.8 754.9,941.9 755.1,940.1 755.4,936.8 755.6,938.2 755.9,940.1 756.1,941.4 756.4,939.4 756.6,940.3 756.9,942.7 757.1,944.1 757.4,940.5 757.6,940.3 757.9,942.6 758.1,941.1 758.4,938.2 758.6,933.7 758.9,938.4 759.1,935.5 759.4,931.2 759.6,931.3 759.9,936.7 760.1,939.5 760.4,935.7 760.6,938.9 760.9,942.4 761.1,945.9 761.4,941.0 761.6,944.2 761.9,949.0 762.1,952.1 762.4,947.9 762.6,947.7 762.9,951.6 763.1,948.8 763.4,943.7 763.6,941.3 763.9,945.1 764.1,941.8 764.4,938.2 764.6,935.4 764.9,939.1 765.1,938.3 765.4,935.4 765.6,937.2 765.9,940.7 766.1,941.3 766.4,939.1 766.6,940.0 766.9,941.8 767.1,944.0 767.4,940.5 767.6,942.5 767.9,944.7 768.1,945.1 768.4,943.1 768.6,941.5 768.9,945.3 769.1,942.6 769.4,941.3 769.6,940.7 769.9,942.9 770.1,941.0 770.4,939.9 770.6,939.2 770.9,941.1 771.1,941.2 771.4,937.7 771.6,936.2 771.9,938.7 772.1,937.2 772.4,935.7 772.6,934.1 772.9,936.6 773.1,936.6 773.4,933.4 773.6,933.3 773.9,937.6 774.1,940.2 774.4,936.7 774.6,938.4 774.9,942.7 775.1,945.0 775.4,941.5 775.6,942.9 775.9,946.4 776.1,944.5 776.4,937.8 776.6,933.8 776.9,938.6 777.1,934.6 777.4,930.2 777.6,929.3 777.9,932.0 778.1,931.7 778.4,929.0 778.6,930.0 778.9,931.3 779.1,932.4 779.4,930.2 779.6,929.5 779.9,930.6 780.1,930.9 780.4,929.6 780.6,930.1 780.9,940.5 781.1,950.4 781.4,938.9 781.6,947.8 781.9,951.8 782.1,949.6 782.4,944.8 782.6,942.1 782.9,946.1 783.1,944.7 783.4,939.5 783.6,937.0 783.9,941.1 784.1,938.2 784.4,935.0 784.6,931.8 784.9,936.5 785.1,933.1 785.4,930.3 785.6,930.6 785.9,932.5 786.1,931.8 786.4,929.4 786.6,929.5 786.9,931.9 787.1,930.3 787.4,929.5 787.6,927.1 787.9,930.9 788.1,929.6 788.4,926.1 788.6,924.5 788.9,926.4 789.1,924.7 789.4,922.1 789.6,919.6 789.9,923.6 790.1,921.7 790.4,918.5 790.6,918.0 790.9,918.8 791.1,919.4 791.4,916.6 791.6,916.1 791.9,918.9 792.1,919.4 792.4,916.5 792.6,918.0 792.9,918.6 793.1,920.9 793.4,916.9 793.6,918.9 793.9,922.6 794.1,925.5 794.4,921.4 794.6,923.5 794.9,927.4 795.1,928.8 795.4,925.3 795.6,927.3 795.9,930.7 796.1,932.6 796.4,929.9 796.6,931.0 796.9,934.8 797.1,933.6 797.4,929.7 797.6,926.6 797.9,930.5 798.1,927.6 798.4,924.8 798.6,922.4 798.9,925.1 799.1,923.2 799.4,921.0 799.6,919.9 799.9,921.6 800.1,921.6 800.4,919.9 800.6,917.7 800.9,920.5 801.1,919.4 801.4,917.8 801.6,916.9 801.9,919.2 802.1,919.6 802.4,916.1 802.6,911.2 802.9,916.1 803.1,912.8 803.4,908.8 803.6,908.7 803.9,912.2 804.1,915.7 804.4,911.4 804.6,913.7 804.9,918.5 805.1,921.1 805.4,916.9 805.6,918.3 805.9,920.9 806.1,919.2 806.4,916.3 806.6,915.2 806.9,917.2 807.1,915.9 807.4,913.0 807.6,912.5 807.9,918.6 808.1,931.2 808.4,915.7 808.6,928.7 808.9,933.0 809.1,930.8 809.4,927.6 809.6,925.6 809.9,928.3 810.1,926.7 810.4,922.7 810.6,921.3 810.9,924.5 811.1,923.9 811.4,918.8 811.6,918.6 811.9,920.1 812.1,919.6 812.4,918.8 812.6,918.4 812.9,921.6 813.1,921.0 813.4,919.6 813.6,919.3 813.9,920.8 814.1,920.9 814.4,916.6 814.6,914.2 814.9,917.8 815.1,915.5 815.4,909.4 815.6,910.4 815.9,912.3 816.1,914.6 816.4,910.0 816.6,912.6 816.9,915.5 817.1,917.0 817.4,915.0 817.6,916.1 817.9,918.4 818.1,921.0 818.4,918.1 818.6,919.5 818.9,921.8 819.1,919.5 819.4,915.4 819.6,914.2 819.9,918.1 820.1,915.7 820.4,912.6 820.6,910.7 820.9,918.1 821.1,933.1 821.4,917.9 821.6,932.3 821.9,938.9 822.1,943.7 822.4,938.3 822.6,941.4 822.9,946.8 823.1,949.8 823.4,946.4 823.6,948.0 823.9,950.1 824.1,951.4 824.4,949.1 824.6,950.6 824.9,953.2 825.1,953.8 825.4,950.5 825.6,949.6 825.9,953.8 826.1,950.4 826.4,945.8 826.6,943.0 826.9,947.7 827.1,944.5 827.4,941.5 827.6,942.2 827.9,944.4 828.1,944.6 828.4,943.0 828.6,943.2 828.9,944.8 829.1,944.6 829.4,942.3 829.6,943.9 829.9,945.5 830.1,950.9 830.4,944.0 830.6,949.5 830.9,957.8 831.1,968.1 831.4,958.0 831.6,965.6 831.9,970.9 832.1,973.5 832.4,969.7 832.6,972.5 832.9,977.6 833.1,978.6 833.4,975.4 833.6,976.5 833.9,981.0 834.1,980.6 834.4,966.8 834.6,955.7 834.9,967.9 835.1,957.2 835.4,955.0 835.6,954.9 835.9,956.0 836.1,956.1 836.4,953.6 836.6,953.2 836.9,955.2 837.1,954.1 837.4,952.9 837.6,952.0 837.9,954.2 838.1,952.5 838.4,950.6 838.6,950.0 838.9,954.6 839.1,957.1 839.4,952.4 839.6,956.1 839.9,961.7 840.1,965.3 840.4,959.3 840.6,964.2 840.9,969.4 841.1,970.8 841.4,965.8 841.6,963.9 841.9,967.3 842.1,964.8 842.4,959.9 842.6,958.1 842.9,961.4 843.1,958.6 843.4,955.2 843.6,955.2 843.9,957.9 844.1,960.1 844.4,957.1 844.6,957.8 844.9,963.1 845.1,965.8 845.4,962.0 845.6,964.4 845.9,967.5 846.1,969.8 846.4,966.0 846.6,964.7 846.9,970.1 847.1,965.8 847.4,960.6 847.6,957.1 847.9,963.0 848.1,958.6 848.4,953.2 848.6,950.6 848.9,955.2 849.1,953.3 849.4,951.0 849.6,951.9 849.9,954.4 850.1,955.6 850.4,953.2 850.6,953.8 850.9,956.4 851.1,957.9 851.4,954.9 851.6,952.8 851.9,955.9 852.1,954.0 852.4,950.8 852.6,948.8 852.9,953.1 853.1,951.6 853.4,947.5 853.6,946.5 853.9,947.9 854.1,948.3 854.4,946.6 854.6,944.5 854.9,947.8 855.1,947.5 855.4,945.3 855.6,944.9 855.9,949.9 856.1,953.5 856.4,948.1 856.6,951.2 856.9,956.9 857.1,961.6 857.4,956.1 857.6,958.7 857.9,965.0 858.1,970.3 858.4,964.1 858.6,967.4 858.9,974.9 859.1,979.0 859.4,973.9 859.6,977.9 859.9,983.8 860.1,985.1 860.4,981.6 860.6,984.1 860.9,986.2 861.1,987.6 861.4,985.0 861.6,982.6 861.9,987.6 862.1,984.8 862.4,979.3 862.6,976.2 862.9,981.3 863.1,977.3 863.4,973.1 863.6,970.7 863.9,974.4 864.1,971.2 864.4,968.2 864.6,964.6 864.9,969.3 865.1,966.2 865.4,962.9 865.6,959.4 865.9,964.2 866.1,961.8 866.4,959.8 866.6,959.3 866.9,962.5 867.1,963.1 867.4,960.0 867.6,961.7 867.9,963.1 868.1,964.7 868.4,962.5 868.6,962.9 868.9,965.4 869.1,970.2 869.4,963.4 869.6,969.7 869.9,981.4 870.1,980.5 870.4,979.1 870.6,978.4 870.9,980.0 871.1,979.4 871.4,977.8 871.6,977.1 871.9,978.3 872.1,979.3 872.4,976.0 872.6,978.4 872.9,985.7 873.1,991.4 873.4,984.4 873.6,990.7 873.9,998.6 874.1,1014.5 874.4,998.5 874.6,1013.0 874.9,1021.0 875.1,1023.3 875.4,1020.4 875.6,1022.0 875.9,1024.9 876.1,1026.4 876.4,1022.4 876.6,1024.8 876.9,1029.1 877.1,1029.7 877.4,1027.5 877.6,1025.7 877.9,1030.7 878.1,1027.8 878.4,1019.2 878.6,1011.6 878.9,1021.2 879.1,1013.6 879.4,1006.0 879.6,1003.5 879.9,1006.9 880.1,1006.4 880.4,1002.3 880.6,1003.0 880.9,1004.3 881.1,1011.0 881.4,1003.1 881.6,1010.3 881.9,1017.9 882.1,1024.7 882.4,1017.2 882.6,1016.6 882.9,1025.7 883.1,1018.4 883.4,1012.6 883.6,1006.8 883.9,1013.7 884.1,1007.9 884.4,1000.5 884.6,995.9 884.9,1002.6 885.1,999.9 885.4,997.7 885.6,998.1 885.9,999.0 886.1,999.9 886.4,998.9 886.6,999.5 886.9,1001.0 887.1,1001.6 887.4,998.1 887.6,994.6 887.9,999.6 888.1,995.8 888.4,992.4 888.6,989.6 888.9,994.6 889.1,990.3 889.4,986.5 889.6,985.2 889.9,992.2 890.1,997.2 890.4,990.3 890.6,996.7 890.9,1003.0 891.1,1007.9 891.4,1001.9 891.6,1002.6 891.9,1008.3 892.1,1004.7 892.4,998.3 892.6,992.8 892.9,998.8 893.1,994.8 893.4,989.5 893.6,989.3 893.9,993.4 894.1,995.3 894.4,991.6 894.6,994.1 894.9,997.4 895.1,998.1 895.4,984.0 895.6,972.0 895.9,985.9 896.1,973.0 896.4,965.4 896.6,967.6 896.9,973.8 897.1,978.7 897.4,973.1 897.6,978.2 897.9,985.7 898.1,988.6 898.4,982.2 898.6,988.5 898.9,993.0 899.1,991.4 899.4,982.7 899.6,974.2 899.9,984.9 900.1,976.2 900.4,965.7 900.6,962.7 900.9,967.6 901.1,964.3 901.4,958.8 901.6,954.2 901.9,959.4 902.1,955.0 902.4,949.2 902.6,946.6 902.9,950.1 903.1,947.2 903.4,944.0 903.6,942.5 903.9,946.0 904.1,944.4 904.4,940.9 904.6,939.4 904.9,942.0 905.1,942.3 905.4,937.2 905.6,936.1 905.9,939.2 906.1,938.1 906.4,935.0 906.6,933.5 906.9,936.1 907.1,934.6 907.4,932.7 907.6,931.2 907.9,935.6 908.1,945.4 908.4,934.8 908.6,943.8 908.9,953.8 909.1,960.0 909.4,953.1 909.6,956.2 909.9,960.9 910.1,956.7 910.4,952.7 910.6,950.2 910.9,955.2 911.1,952.1 911.4,946.6 911.6,944.6 911.9,948.8 912.1,946.4 912.4,941.9 912.6,936.8 912.9,943.7 913.1,938.1 913.4,933.3 913.6,931.7 913.9,934.0 914.1,937.1 914.4,932.9 914.6,935.5 914.9,939.8 915.1,941.3 915.4,937.9 915.6,940.4 915.9,944.2 916.1,946.6 916.4,943.8 916.6,945.7 916.9,948.8 917.1,951.1 917.4,947.6 917.6,949.7 917.9,953.7 918.1,956.3 918.4,952.8 918.6,944.8 918.9,955.1 919.1,945.4 919.4,935.0 919.6,926.5 919.9,937.6 920.1,928.1 920.4,926.1 920.6,925.5 920.9,926.6 921.1,925.6 921.4,924.2 921.6,923.3 921.9,925.1 922.1,924.5 922.4,923.1 922.6,922.3 922.9,924.3 923.1,935.7 923.4,921.3 923.6,934.0 923.9,948.6 924.1,948.4 924.4,945.4 924.6,944.0 924.9,946.8 925.1,944.7 925.4,942.3 925.6,939.5 925.9,942.4 926.1,941.5 926.4,938.4 926.6,936.8 926.9,940.3 927.1,938.2 927.4,935.8 927.6,934.0 927.9,937.7 928.1,934.8 928.4,933.2 928.6,932.3 928.9,934.7 929.1,934.6 929.4,931.7 929.6,930.3 929.9,932.1 930.1,931.3 930.4,929.4 930.6,929.0 930.9,930.3 931.1,936.0 931.4,930.2 931.6,934.8 931.9,941.3 932.1,946.2 932.4,940.6 932.6,943.1 932.9,946.9 933.1,945.3 933.4,941.7 933.6,940.2 933.9,943.7 934.1,941.5 934.4,937.8 934.6,936.8 934.9,939.6 935.1,937.0 935.4,935.3 935.6,935.5 935.9,938.4 936.1,940.7 936.4,937.2 936.6,939.3 936.9,942.3 937.1,943.1 937.4,940.9 937.6,941.4 937.9,945.5 938.1,945.5 938.4,943.9 938.6,944.3 938.9,945.5 939.1,946.7 939.4,944.5 939.6,944.5 939.9,946.3 940.1,948.2 940.4,946.3 940.6,945.9 940.9,948.3 941.1,949.8 941.4,947.1 941.6,948.3 941.9,950.7 942.1,952.1 942.4,949.4 942.6,950.4 942.9,953.2 943.1,954.7 943.4,952.3 943.6,952.6 943.9,954.9 944.1,955.8 944.4,953.2 944.6,951.3 944.9,954.3 945.1,952.4 945.4,948.4 945.6,946.9 945.9,950.2 946.1,948.7 946.4,945.1 946.6,943.7 946.9,946.0 947.1,946.5 947.4,943.9 947.6,944.5 947.9,945.5 948.1,945.9 948.4,944.3 948.6,944.2 948.9,946.1 949.1,945.5 949.4,944.0 949.6,944.9 949.9,950.3 950.1,956.6 950.4,948.0 950.6,954.5 950.9,963.0 951.1,967.2 951.4,962.3 951.6,966.1 951.9,970.3 952.1,971.6 952.4,967.5 952.6,969.0 952.9,972.9 953.1,973.9 953.4,970.4 953.6,970.3 953.9,971.6 954.1,971.7 954.4,968.9 954.6,968.6 954.9,969.9 955.1,970.8 955.4,968.7 955.6,967.8 955.9,969.8 956.1,968.6 956.4,966.6 956.6,966.2 956.9,969.0 957.1,966.9 957.4,964.1 957.6,961.8 957.9,965.4 958.1,964.3 958.4,959.1 958.6,958.1 958.9,960.9 959.1,959.2 959.4,957.4 959.6,956.6 959.9,957.8 960.1,957.5 960.4,954.5 960.6,953.8 960.9,956.7 961.1,955.4 961.4,953.4 961.6,951.9 961.9,953.7 962.1,954.0 962.4,952.3 962.6,951.4 962.9,953.0 963.1,953.6 963.4,950.8 963.6,949.6 963.9,951.9 964.1,951.7 964.4,950.2 964.6,950.1 964.9,954.1 965.1,959.0 965.4,952.9 965.6,957.6 965.9,963.0 966.1,965.5 966.4,960.2 966.6,963.9 966.9,970.3 967.1,975.5 967.4,969.3 967.6,974.4 967.9,982.4 968.1,987.1 968.4,980.6 968.6,986.5 968.9,989.1 969.1,990.2 969.4,987.7 969.6,988.2 969.9,990.6 970.1,992.1 970.4,990.1 970.6,991.2 970.9,993.0 971.1,992.9 971.4,991.5 971.6,990.6 971.9,993.2 972.1,991.6 972.4,991.0 972.6,989.9 972.9,991.3 973.1,990.5 973.4,989.4 973.6,989.6 973.9,991.6 974.1,994.3 974.4,989.6 974.6,992.9 974.9,999.2 975.1,1001.9 975.4,995.3 975.6,1001.0 975.9,1005.5 976.1,1006.8 976.4,1003.4 976.6,998.9 976.9,1005.9 977.1,1003.3 977.4,996.4 977.6,993.3 977.9,998.1 978.1,994.3 978.4,990.1 978.6,987.7 978.9,990.7 979.1,989.3 979.4,986.9 979.6,985.2 979.9,987.6 980.1,986.5 980.4,984.5 980.6,983.2 980.9,985.3 981.1,985.2 981.4,983.1 981.6,984.0 981.9,988.7 982.1,992.5 982.4,988.6 982.6,991.1 982.9,996.2 983.1,998.4 983.4,993.5 983.6,997.2 983.9,999.1 984.1,999.8 984.4,998.5 984.6,999.7 984.9,1001.2 985.1,1003.3 985.4,1000.4 985.6,998.5 985.9,1002.8 986.1,999.9 986.4,995.8 986.6,993.0 986.9,997.2 987.1,993.8 987.4,989.0 987.6,985.1 987.9,989.7 988.1,987.0 988.4,985.1 988.6,985.7 988.9,987.3 989.1,987.0 989.4,985.2 989.6,984.6 989.9,986.8 990.1,985.5 990.4,984.8 990.6,984.0 990.9,985.6 991.1,985.5 991.4,983.9 991.6,983.8 991.9,985.8 992.1,984.7 992.4,982.7 992.6,982.0 992.9,984.2 993.1,983.0 993.4,981.4 993.6,981.0 993.9,982.6 994.1,982.0 994.4,979.9 994.6,979.0 994.9,982.6 995.1,981.2 995.4,978.9 995.6,978.2 995.9,979.8 996.1,979.9 996.4,976.9 996.6,977.1 996.9,983.7 997.1,988.7 997.4,982.8 997.6,988.5 997.9,994.9 998.1,996.4 998.4,994.2 998.6,993.7 998.9,995.5 999.1,995.2 999.4,993.9 999.6,992.9 999.9,995.6 1000.1,994.0 1000.4,992.5 1000.6,991.7 1000.9,994.1 1001.1,992.7 1001.4,989.4 1001.6,989.7 1001.9,991.5 1002.1,990.6 1002.4,988.6 1002.6,987.5 1002.9,990.4 1003.1,988.7 1003.4,984.8 1003.6,985.0 1003.9,988.8 1004.1,986.9 1004.4,983.9 1004.6,980.1 1004.9,984.7 1005.1,982.4 1005.4,977.1 1005.6,975.0 1005.9,978.2 1006.1,976.2 1006.4,974.5 1006.6,972.8 1006.9,976.4 1007.1,975.7 1007.4,974.7 1007.6,974.1 1007.9,975.0 1008.1,975.7 1008.4,974.0 1008.6,972.9 1008.9,974.4 1009.1,975.6 1009.4,972.7 1009.6,970.8 1009.9,974.5 1010.1,972.9 1010.4,969.8 1010.6,968.7 1010.9,971.4 1011.1,969.7 1011.4,967.4 1011.6,968.7 1011.9,969.7 1012.1,971.3 1012.4,968.7 1012.6,970.5 1012.9,972.0 1013.1,973.5 1013.4,970.2 1013.6,971.6 1013.9,974.3 1014.1,974.9 1014.4,973.1 1014.6,972.5 1014.9,978.2 1015.1,980.9 1015.4,976.1 1015.6,979.6 1015.9,984.1 1016.1,988.1 1016.4,981.9 1016.6,986.1 1016.9,991.8 1017.1,994.6 1017.4,989.5 1017.6,994.0 1017.9,996.4 1018.1,995.5 1018.4,993.0 1018.6,991.0 1018.9,993.9 1019.1,992.1 1019.4,989.7 1019.6,987.4 1019.9,989.8 1020.1,990.8 1020.4,987.3 1020.6,989.5 1020.9,991.7 1021.1,993.9 1021.4,991.2 1021.6,992.8 1021.9,995.8 1022.1,997.1 1022.4,994.6 1022.6,992.6 1022.9,995.6 1023.1,993.8 1023.4,991.2 1023.6,988.3 1023.9,992.2 1024.1,990.4 1024.4,986.6 1024.6,986.0 1024.9,987.8 1025.1,988.4 1025.4,985.2 1025.6,986.4 1025.9,988.0 1026.1,987.7 1026.4,987.4 1026.6,986.4 1026.9,988.7 1027.1,988.4 1027.4,986.3 1027.6,988.3 1027.9,989.7 1028.1,990.1 1028.4,987.5 1028.6,988.7 1028.9,989.6 1029.1,990.8 1029.4,989.5 1029.6,989.4 1029.9,996.7 1030.1,1000.3 1030.4,994.3 1030.6,997.7 1030.9,1004.7 1031.1,1006.4 1031.4,1001.9 1031.6,1004.1 1031.9,1006.6 1032.1,1007.1 1032.4,1004.7 1032.6,1005.7 1032.9,1008.0 1033.1,1007.7 1033.4,1005.2 1033.6,1002.1 1033.9,1007.4 1034.1,1003.2 1034.4,996.6 1034.6,995.3 1034.9,1000.1 1035.1,997.0 1035.4,996.0 1035.6,996.1 1035.9,997.9 1036.1,998.6 1036.4,996.5 1036.6,995.4 1036.9,998.9 1037.1,999.3 1037.4,997.2 1037.6,998.3 1037.9,1000.5 1038.1,1006.4 1038.4,998.6 1038.6,1006.2 1038.9,1014.1 1039.1,1020.7 1039.4,1012.0 1039.6,1019.1 1039.9,1027.7 1040.1,1027.6 1040.4,1019.8 1040.6,1013.0 1040.9,1021.3 1041.1,1014.6 1041.4,1006.1 1041.6,1005.3 1041.9,1008.7 1042.1,1012.1 1042.4,1008.7 1042.6,1010.5 1042.9,1014.0 1043.1,1015.9 1043.4,1011.3 1043.6,1013.7 1043.9,1017.6 1044.1,1018.8 1044.4,1012.7 1044.6,1010.1 1044.9,1014.1 1045.1,1011.9 1045.4,1007.0 1045.6,1004.3 1045.9,1008.9 1046.1,1005.1 1046.4,1002.6 1046.6,1003.7 1046.9,1008.1 1047.1,1010.9 1047.4,1007.2 1047.6,1009.4 1047.9,1012.6 1048.1,1015.3 1048.4,1011.5 1048.6,1014.5 1048.9,1018.0 1049.1,1019.7 1049.4,1012.6 1049.6,1007.3 1049.9,1014.6 1050.1,1009.1 1050.4,1002.7 1050.6,1001.4 1050.9,1003.8 1051.1,1002.5 1051.4,1001.9 1051.6,1001.5 1051.9,1002.7 1052.1,1003.4 1052.4,1001.5 1052.6,1002.4 1052.9,1003.6 1053.1,1003.8 1053.4,1001.3 1053.6,998.2 1053.9,1003.0 1054.1,999.2 1054.4,995.3 1054.6,992.7 1054.9,997.2 1055.1,999.0 1055.4,994.5 1055.6,998.3 1055.9,1003.3 1056.1,1006.6 1056.4,1002.6 1056.6,1005.5 1056.9,1009.0 1057.1,1008.8 1057.4,1006.2 1057.6,1004.6 1057.9,1006.7 1058.1,1005.9 1058.4,1001.6 1058.6,999.6 1058.9,1002.7 1059.1,1005.3 1059.4,1002.1 1059.6,1004.6 1059.9,1008.1 1060.1,1009.4 1060.4,1005.8 1060.6,1007.3 1060.9,1011.1 1061.1,1010.6 1061.4,1008.8 1061.6,1006.4 1061.9,1009.3 1062.1,1008.5 1062.4,1006.1 1062.6,1004.2 1062.9,1006.4 1063.1,1005.4 1063.4,1002.9 1063.6,1002.8 1063.9,1004.4 1064.1,1002.8 1064.4,1001.8 1064.6,1001.1 1064.9,1002.8 1065.1,1001.6 1065.4,999.8 1065.6,999.3 1065.9,1001.4 1066.1,1000.0 1066.4,995.5 1066.6,994.4 1066.9,997.3 1067.1,996.6 1067.4,993.1 1067.6,993.0 1067.9,994.8 1068.1,993.4 1068.4,991.4 1068.6,990.8 1068.9,993.5 1069.1,993.0 1069.4,991.1 1069.6,990.3 1069.9,992.3 1070.1,991.2 1070.4,989.1 1070.6,989.5 1070.9,991.9 1071.1,993.4 1071.4,990.8 1071.6,992.1 1071.9,993.4 1072.1,995.0 1072.4,992.9 1072.6,993.7 1072.9,995.9 1073.1,996.4 1073.4,994.5 1073.6,994.0 1073.9,997.2 1074.1,996.8 1074.4,992.7 1074.6,990.5 1074.9,994.2 1075.1,992.3 1075.4,989.3 1075.6,987.0 1075.9,990.9 1076.1,988.4 1076.4,985.6 1076.6,984.9 1076.9,987.6 1077.1,986.0 1077.4,981.8 1077.6,982.4 1077.9,985.0 1078.1,987.4 1078.4,984.9 1078.6,986.3 1078.9,989.8 1079.1,991.8 1079.4,989.1 1079.6,990.5 1079.9,993.9 1080.1,994.2 1080.4,991.3 1080.6,992.7 1080.9,994.7 1081.1,994.3 1081.4,992.8 1081.6,993.5 1081.9,996.3 1082.1,995.4 1082.4,994.6 1082.6,993.6 1082.9,997.1 1083.1,1000.6 1083.4,995.0 1083.6,1000.0 1083.9,1005.0 1084.1,1009.9 1084.4,1004.1 1084.6,1009.3 1084.9,1012.7 1085.1,1014.0 1085.4,1011.0 1085.6,1012.9 1085.9,1016.0 1086.1,1017.3 1086.4,1014.7 1086.6,1016.5 1086.9,1018.9 1087.1,1020.8 1087.4,1017.5 1087.6,1020.2 1087.9,1021.4 1088.1,1020.6 1088.4,1019.0 1088.6,1018.7 1088.9,1019.9 1089.1,1018.9 1089.4,1016.6 1089.6,1016.0 1089.9,1018.7 1090.1,1018.8 1090.4,1016.5 1090.6,1015.3 1090.9,1017.4 1091.1,1018.1 1091.4,1015.9 1091.6,1017.8 1091.9,1020.3 1092.1,1022.1 1092.4,1018.6 1092.6,1020.6 1092.9,1023.6 1093.1,1024.6 1093.4,1021.4 1093.6,1023.6 1093.9,1026.3 1094.1,1026.2 1094.4,1023.6 1094.6,1023.4 1094.9,1025.8 1095.1,1024.4 1095.4,1022.2 1095.6,1021.8 1095.9,1023.3 1096.1,1023.0 1096.4,1021.1 1096.6,1021.0 1096.9,1023.3 1097.1,1022.4 1097.4,1017.8 1097.6,1013.8 1097.9,1019.9 1098.1,1014.6 1098.4,1009.1 1098.6,1008.1 1098.9,1011.6 1099.1,1009.4 1099.4,1006.8 1099.6,1007.0 1099.9,1009.0 1100.1,1007.8 1100.4,1005.9 1100.6,1004.3 1100.9,1007.1 1101.1,1005.6 1101.4,1003.9 1101.6,1004.9 1101.9,1006.0 1102.1,1006.2 1102.4,1004.8 1102.6,1004.8 1102.9,1007.4 1103.1,1007.4 1103.4,1004.8 1103.6,1004.7 1103.9,1006.7 1104.1,1006.5 1104.4,1003.9 1104.6,1003.7 1104.9,1004.7 1105.1,1004.2 1105.4,1002.7 1105.6,1001.4 1105.9,1005.3 1106.1,1005.3 1106.4,1003.2 1106.6,1004.2 1106.9,1007.0 1107.1,1010.1 1107.4,1006.7 1107.6,1007.2 1107.9,1010.5 1108.1,1011.9 1108.4,1009.8 1108.6,1009.2 1108.9,1012.6 1109.1,1014.1 1109.4,1011.1 1109.6,1012.1 1109.9,1015.5 1110.1,1015.7 1110.4,1012.8 1110.6,1014.2 1110.9,1017.3 1111.1,1018.4 1111.4,1016.5 1111.6,1017.7 1111.9,1020.1 1112.1,1020.2 1112.4,1018.7 1112.6,1017.6 1112.9,1019.9 1113.1,1018.9 1113.4,1018.2 1113.6,1017.3 1113.9,1018.5 1114.1,1019.4 1114.4,1016.2 1114.6,1014.0 1114.9,1017.0 1115.1,1015.3 1115.4,1013.3 1115.6,1011.8 1115.9,1014.1 1116.1,1013.3 1116.4,1009.0 1116.6,1009.6 1116.9,1011.5 1117.1,1010.2 1117.4,1008.9 1117.6,1008.6 1117.9,1010.3 1118.1,1009.9 1118.4,1007.6 1118.6,1006.2 1118.9,1008.5 1119.1,1010.7 1119.4,1006.5 1119.6,1008.6 1119.9,1012.3 1120.1,1014.6 1120.4,1010.9 1120.6,1010.2 1120.9,1013.1 1121.1,1012.1 1121.4,1008.0 1121.6,1006.6 1121.9,1009.6 1122.1,1009.6 1122.4,1005.2 1122.6,1004.1 1122.9,1006.8 1123.1,1006.0 1123.4,1004.7 1123.6,1004.7 1123.9,1005.1 1124.1,1006.1 1124.4,1005.0 1124.6,1004.3 1124.9,1005.8 1125.1,1006.7 1125.4,1003.5 1125.6,1002.4 1125.9,1004.8 1126.1,1003.9 1126.4,1000.7 1126.6,1000.9 1126.9,1002.4 1127.1,1002.9 1127.4,1001.4 1127.6,1001.4 1127.9,1004.4 1128.1,1005.8 1128.4,1002.9 1128.6,1004.1 1128.9,1006.3 1129.1,1007.6 1129.4,1004.7 1129.6,1006.7 1129.9,1008.5 1130.1,1009.6 1130.4,1005.5 1130.6,1005.8 1130.9,1007.2 1131.1,1006.4 1131.4,1004.6 1131.6,1004.9 1131.9,1006.6 1132.1,1005.1 1132.4,1003.5 1132.6,1002.2 1132.9,1004.8 1133.1,1004.6 1133.4,1002.8 1133.6,1003.6 1133.9,1005.6 1134.1,1006.5 1134.4,1004.2 1134.6,1006.6 1134.9,1007.9 1135.1,1008.4 1135.4,1006.8 1135.6,1006.9 1135.9,1008.2 1136.1,1008.8 1136.4,1006.5 1136.6,1007.1 1136.9,1008.4 1137.1,1008.1 1137.4,1007.3 1137.6,1006.7 1137.9,1009.5 1138.1,1011.5 1138.4,1007.5 1138.6,1010.3 1138.9,1013.6 1139.1,1015.2 1139.4,1012.2 1139.6,1013.0 1139.9,1017.0 1140.1,1017.0 1140.4,1015.1 1140.6,1013.9 1140.9,1015.0 1141.1,1014.1 1141.4,1012.2 1141.6,1011.7 1141.9,1013.9 1142.1,1012.5 1142.4,1009.3 1142.6,1005.0 1142.9,1009.9 1143.1,1005.9 1143.4,1000.0 1143.6,999.7 1143.9,1002.7 1144.1,1003.2 1144.4,1001.2 1144.6,1002.8 1144.9,1004.6 1145.1,1006.2 1145.4,1003.7 1145.6,1004.4 1145.9,1006.2 1146.1,1007.8 1146.4,1005.2 1146.6,1006.0 1146.9,1007.2 1147.1,1008.3 1147.4,1005.1 1147.6,1006.8 1147.9,1007.5 1148.1,1008.3 1148.4,1007.3 1148.6,1006.9 1148.9,1007.6 1149.1,1009.1 1149.4,1007.3 1149.6,1006.8 1149.9,1009.1 1150.1,1008.3 1150.4,1006.2 1150.6,1005.3 1150.9,1008.4 1151.1,1005.8 1151.4,1004.1 1151.6,1002.8 1151.9,1005.6 1152.1,1003.3 1152.4,1000.8 1152.6,1000.9 1152.9,1003.1 1153.1,1001.6 1153.4,1000.2 1153.6,999.0 1153.9,1002.4 1154.1,1002.0 1154.4,1000.3 1154.6,1000.0 1154.9,1001.7 1155.1,1001.9 1155.4,997.5 1155.6,997.5 1155.9,999.5 1156.1,999.5 1156.4,996.8 1156.6,996.2 1156.9,998.0 1157.1,999.5 1157.4,995.9 1157.6,997.2 1157.9,1001.8 1158.1,1002.3 1158.4,999.8 1158.6,1000.0 1158.9,1003.3 1159.1,1004.2 1159.4,1002.4 1159.6,1004.2 1159.9,1006.3 1160.1,1007.4 1160.4,1004.6 1160.6,1004.8 1160.9,1006.7 1161.1,1006.3 1161.4,1003.3 1161.6,1003.1 1161.9,1004.2 1162.1,1004.4 1162.4,1001.9 1162.6,999.2 1162.9,1003.2 1163.1,1001.6 1163.4,1000.0 1163.6,1000.3 1163.9,1002.6 1164.1,1005.5 1164.4,1001.8 1164.6,1005.0 1164.9,1008.4 1165.1,1009.3 1165.4,1007.2 1165.6,1009.4 1165.9,1011.3 1166.1,1010.9 1166.4,1008.4 1166.6,1007.6 1166.9,1009.4 1167.1,1009.7 1167.4,1006.8 1167.6,1006.7 1167.9,1009.1 1168.1,1007.9 1168.4,1005.9 1168.6,1004.8 1168.9,1006.9 1169.1,1006.9 1169.4,1005.5 1169.6,1006.1 1169.9,1007.2 1170.1,1008.5 1170.4,1006.9 1170.6,1006.9 1170.9,1007.7 1171.1,1009.4 1171.4,1007.4 1171.6,1006.2 1171.9,1007.6 1172.1,1006.7 1172.4,1004.8 1172.6,1003.3 1172.9,1005.5 1173.1,1005.7 1173.4,1004.3 1173.6,1003.8 1173.9,1006.5 1174.1,1006.9 1174.4,1005.4 1174.6,1004.6 1174.9,1006.8 1175.1,1007.2 1175.4,1006.4 1175.6,1006.7 1175.9,1008.1 1176.1,1007.9 1176.4,1006.0 1176.6,1007.2 1176.9,1009.0 1177.1,1007.7 1177.4,1005.7 1177.6,1004.2 1177.9,1007.4 1178.1,1005.1 1178.4,1002.9 1178.6,1000.3 1178.9,1003.7 1179.1,1003.3 1179.4,1000.3 1179.6,998.4 1179.9,1001.5 1180.1,1000.6 1180.4,999.0 1180.6,997.1 1180.9,1000.2 1181.1,999.8 1181.4,998.6 1181.6,998.1 1181.9,1000.2 1182.1,999.9 1182.4,997.4 1182.6,996.9 1182.9,999.5 1183.1,999.0 1183.4,997.7 1183.6,999.2 1183.9,1001.3 1184.1,1001.5 1184.4,1000.2 1184.6,999.4 1184.9,1002.5 1185.1,1003.4 1185.4,1001.4 1185.6,1001.0 1185.9,1002.9 1186.1,1002.4 1186.4,1000.4 1186.6,999.5 1186.9,1001.8 1187.1,1000.2 1187.4,998.7 1187.6,998.7 1187.9,1001.1 1188.1,1001.7 1188.4,998.8 1188.6,998.6 1188.9,1001.9 1189.1,1002.7 1189.4,1000.6 1189.6,1002.1 1189.9,1004.0 1190.1,1006.6 1190.4,1002.8 1190.6,1004.1 1190.9,1005.8 1191.1,1005.5 1191.4,1003.8 1191.6,1002.9 1191.9,1004.8 1192.1,1004.5 1192.4,1002.9 1192.6,1001.2 1192.9,1003.9 1193.1,1003.1 1193.4,1001.2 1193.6,1000.3 1193.9,1002.0 1194.1,1000.8 1194.4,998.4 1194.6,997.1 1194.9,1000.1 1195.1,998.4 1195.4,995.3 1195.6,995.5 1195.9,997.9 1196.1,997.6 1196.4,997.0 1196.6,997.6 1196.9,999.0 1197.1,999.3 1197.4,997.5 1197.6,998.6 1197.9,999.5 1198.1,1001.0 1198.4,998.9 1198.6,999.9 1198.9,1001.6 1199.1,1001.6 1199.4,997.9 1199.6,997.9 1199.9,1000.6 1200.1,998.5 1200.4,997.4 1200.6,996.6 1200.9,999.0 1201.1,998.1 1201.4,996.6 1201.6,996.5 1201.9,998.3 1202.1,998.9 1202.4,997.0 1202.6,996.8 1202.9,997.1 1203.1,997.8 1203.4,995.5 1203.6,995.8 1203.9,997.4 1204.1,997.0 1204.4,995.3 1204.6,995.5 1204.9,997.4 1205.1,998.2 1205.4,996.8 1205.6,996.9 1205.9,998.9 1206.1,998.9 1206.4,997.4 1206.6,997.5 1206.9,998.6 1207.1,999.4 1207.4,997.2 1207.6,997.3 1207.9,999.9 1208.1,999.2 1208.4,997.1 1208.6,996.7 1208.9,999.1 1209.1,998.3 1209.4,995.9 1209.6,995.6 1209.9,997.6 1210.1,996.8 1210.4,996.1 1210.6,994.8 1210.9,996.6 1211.1,996.4 1211.4,994.8 1211.6,993.8 1211.9,996.2 1212.1,998.7 1212.4,994.8 1212.6,996.7 1212.9,999.0 1213.1,1001.6 1213.4,998.1 1213.6,1000.0 1213.9,1002.9 1214.1,1003.7 1214.4,1002.5 1214.6,1002.2 1214.9,1003.0 1215.1,1003.2 1215.4,1001.6 1215.6,1001.6 1215.9,1002.9 1216.1,1002.8 1216.4,1000.5 1216.6,999.2 1216.9,1002.3 1217.1,1001.6 1217.4,999.1 1217.6,999.2 1217.9,1001.0 1218.1,1001.5 1218.4,1000.1 1218.6,999.0 1218.9,1001.6 1219.1,1001.5 1219.4,999.9 1219.6,1000.0 1219.9,1001.3 1220.1,1000.7 1220.4,999.5 1220.6,999.0 1220.9,1001.0 1221.1,1001.4 1221.4,999.8 1221.6,1000.7 1221.9,1002.2 1222.1,1002.7 1222.4,1000.2 1222.6,1000.9 1222.9,1004.1 1223.1,1004.4 1223.4,1002.0 1223.6,1003.4 1223.9,1005.7 1224.1,1007.8 1224.4,1004.0 1224.6,1006.8 1224.9,1010.0 1225.1,1010.8 1225.4,1007.9 1225.6,1010.0 1225.9,1012.7 1226.1,1012.8 1226.4,1009.3 1226.6,1007.9 1226.9,1011.5 1227.1,1009.0 1227.4,1006.6 1227.6,1005.5 1227.9,1008.3 1228.1,1006.5 1228.4,1003.8 1228.6,1002.2 1228.9,1004.4 1229.1,1003.0 1229.4,1000.7 1229.6,999.9 1229.9,1002.5 1230.1,1000.9 1230.4,997.6 1230.6,996.2 1230.9,999.6 1231.1,998.4 1231.4,996.4 1231.6,994.4 1231.9,998.3 1232.1,995.7 1232.4,993.7 1232.6,992.8 1232.9,994.6 1233.1,993.7 1233.4,991.5 1233.6,991.7 1233.9,993.3 1234.1,995.1 1234.4,992.9 1234.6,994.7 1234.9,997.9 1235.1,999.4 1235.4,996.6 1235.6,995.8 1235.9,998.9 1236.1,997.0 1236.4,993.4 1236.6,993.0 1236.9,995.8 1237.1,994.2 1237.4,991.1 1237.6,989.3 1237.9,992.4 1238.1,991.2 1238.4,989.1 1238.6,988.8 1238.9,992.9 1239.1,994.1 1239.4,990.4 1239.6,992.2 1239.9,996.0 1240.1,996.3 1240.4,993.5 1240.6,995.5 1240.9,998.1 1241.1,999.7 1241.4,996.3 1241.6,998.2 1241.9,1002.7 1242.1,1004.3 1242.4,1001.1 1242.6,1002.6 1242.9,1005.5 1243.1,1003.7 1243.4,1000.2 1243.6,996.6 1243.9,1001.4 1244.1,997.4 1244.4,993.6 1244.6,991.9 1244.9,994.5 1245.1,993.0 1245.4,990.0 1245.6,989.8 1245.9,992.2 1246.1,991.8 1246.4,988.9 1246.6,987.6 1246.9,989.9 1247.1,989.2 1247.4,987.0 1247.6,984.4 1247.9,988.4 1248.1,986.8 1248.4,984.6 1248.6,985.4 1248.9,988.1 1249.1,991.5 1249.4,987.3 1249.6,990.4 1249.9,994.8 1250.1,996.8 1250.4,994.3 1250.6,996.4 1250.9,998.4 1251.1,1000.2 1251.4,995.9 1251.6,998.7 1251.9,1000.6 1252.1,1002.3 1252.4,999.3 1252.6,999.8 1252.9,1001.9 1253.1,1001.8 1253.4,1000.5 1253.6,1000.5 1253.9,1001.3 1254.1,1001.7 1254.4,999.2 1254.6,999.2 1254.9,1001.0 1255.1,1002.6 1255.4,999.4 1255.6,997.9 1255.9,1001.2 1256.1,998.4 1256.4,995.6 1256.6,991.8 1256.9,996.5 1257.1,994.3 1257.4,991.7 1257.6,991.4 1257.9,992.4 1258.1,992.0 1258.4,990.1 1258.6,991.1 1258.9,992.8 1259.1,992.8 1259.4,990.9 1259.6,990.5 1259.9,991.7 1260.1,992.7 1260.4,990.1 1260.6,990.1 1260.9,991.8 1261.1,992.5 1261.4,991.0 1261.6,989.9 1261.9,991.4 1262.1,991.7 1262.4,990.2 1262.6,990.4 1262.9,993.1 1263.1,993.7 1263.4,991.5 1263.6,992.5 1263.9,994.1 1264.1,995.2 1264.4,993.1 1264.6,993.5 1264.9,996.0 1265.1,996.4 1265.4,993.3 1265.6,995.0 1265.9,998.4 1266.1,1001.6 1266.4,997.8 1266.6,999.4 1266.9,1003.6 1267.1,1005.8 1267.4,1001.7 1267.6,1005.1 1267.9,1007.7 1268.1,1007.0 1268.4,1003.9 1268.6,1003.0 1268.9,1005.2 1269.1,1003.7 1269.4,1000.8 1269.6,1000.6 1269.9,1002.2 1270.1,1001.4 1270.4,999.9 1270.6,998.5 1270.9,1000.6 1271.1,999.0 1271.4,997.9 1271.6,996.9 1271.9,998.6 1272.1,997.8 1272.4,996.5 1272.6,996.3 1272.9,998.2 1273.1,997.4 1273.4,996.1 1273.6,996.2 1273.9,1000.5 1274.1,1007.6 1274.4,999.8 1274.6,1005.8 1274.9,1014.8 1275.1,1018.3 1275.4,1013.3 1275.6,1015.1 1275.9,1018.0 1276.1,1016.0 1276.4,1013.4 1276.6,1011.2 1276.9,1014.0 1277.1,1012.8 1277.4,1009.0 1277.6,1008.6 1277.9,1011.8 1278.1,1012.8 1278.4,1011.0 1278.6,1011.9 1278.9,1013.6 1279.1,1014.7 1279.4,1012.2 1279.6,1012.6 1279.9,1015.6 1280.1,1015.7 1280.4,1013.5 1280.6,1012.8 1280.9,1016.2 1281.1,1017.8 1281.4,1012.8 1281.6,1010.5 1281.9,1014.2 1282.1,1011.2 1282.4,1007.2 1282.6,1005.6 1282.9,1009.2 1283.1,1006.0 1283.4,1002.8 1283.6,1000.5 1283.9,1003.4 1284.1,1003.3 1284.4,1000.3 1284.6,999.2 1284.9,1001.3 1285.1,1000.0 1285.4,998.4 1285.6,997.1 1285.9,1000.3 1286.1,1003.0 1286.4,998.8 1286.6,1002.0 1286.9,1006.9 1287.1,1009.2 1287.4,1004.9 1287.6,1007.9 1287.9,1012.7 1288.1,1013.3 1288.4,1010.9 1288.6,1011.2 1288.9,1013.0 1289.1,1012.1 1289.4,1008.4 1289.6,1008.5 1289.9,1011.2 1290.1,1009.5 1290.4,1007.7 1290.6,1006.2 1290.9,1009.3 1291.1,1008.0 1291.4,1005.6 1291.6,1006.4 1291.9,1010.7 1292.1,1013.1 1292.4,1009.5 1292.6,1011.3 1292.9,1014.4 1293.1,1015.6 1293.4,1012.7 1293.6,1014.6 1293.9,1016.3 1294.1,1014.8 1294.4,1012.7 1294.6,1011.3 1294.9,1014.5 1295.1,1013.7 1295.4,1010.7 1295.6,1009.5 1295.9,1012.0 1296.1,1011.0 1296.4,1008.0 1296.6,1010.4 1296.9,1015.2 1297.1,1019.2 1297.4,1014.2 1297.6,1016.9 1297.9,1023.1 1298.1,1025.1 1298.4,1020.2 1298.6,1023.8 1298.9,1026.1 1299.1,1026.2 1299.4,1025.1 1299.6,1026.0 1299.9,1028.4 1300.1,1028.7 1300.4,1027.2 1300.6,1027.2 1300.9,1031.1 1301.1,1031.4 1301.4,1028.6 1301.6,1029.8 1301.9,1032.3 1302.1,1032.3 1302.4,1028.3 1302.6,1024.8 1302.9,1029.6 1303.1,1025.7 1303.4,1021.7 1303.6,1017.9 1303.9,1023.7 1304.1,1018.3 1304.4,1013.8 1304.6,1012.3 1304.9,1015.4 1305.1,1013.5 1305.4,1011.2 1305.6,1010.0 1305.9,1012.4 1306.1,1011.3 1306.4,1008.9 1306.6,1008.7 1306.9,1011.0 1307.1,1009.3 1307.4,1005.9 1307.6,1007.0 1307.9,1008.5 1308.1,1008.0 1308.4,1006.4 1308.6,1005.6 1308.9,1006.8 1309.1,1007.2 1309.4,1005.7 1309.6,1005.1 1309.9,1006.1 1310.1,1006.6 1310.4,1004.5 1310.6,1004.8 1310.9,1006.3 1311.1,1006.8 1311.4,1004.2 1311.6,1004.7 1311.9,1006.8 1312.1,1006.7 1312.4,1004.2 1312.6,1004.5 1312.9,1007.9 1313.1,1007.2 1313.4,1006.0 1313.6,1006.7 1313.9,1008.8 1314.1,1010.2 1314.4,1006.9 1314.6,1008.8 1314.9,1011.8 1315.1,1013.5 1315.4,1010.4 1315.6,1013.0 1315.9,1016.1 1316.1,1016.9 1316.4,1014.7 1316.6,1012.3 1316.9,1015.5 1317.1,1012.3 1317.4,1008.4 1317.6,1007.7 1317.9,1010.4 1318.1,1009.6 1318.4,1004.1 1318.6,1003.7 1318.9,1006.3 1319.1,1007.0 1319.4,1004.2 1319.6,1004.8 1319.9,1006.5 1320.1,1008.1 1320.4,1005.7 1320.6,1006.9 1320.9,1007.6 1321.1,1008.7 1321.4,1006.3 1321.6,1007.9 1321.9,1008.9 1322.1,1010.3 1322.4,1007.7 1322.6,1009.6 1322.9,1012.3 1323.1,1013.4 1323.4,1010.6 1323.6,1012.3 1323.9,1014.0 1324.1,1015.6 1324.4,1013.9 1324.6,1015.1 1324.9,1016.6 1325.1,1016.0 1325.4,1012.2 1325.6,1008.7 1325.9,1013.6 1326.1,1010.7 1326.4,1006.5 1326.6,1003.9 1326.9,1008.8 1327.1,1004.6 1327.4,1002.1 1327.6,1001.3 1327.9,1003.4 1328.1,1002.9 1328.4,1000.5 1328.6,1000.2 1328.9,1002.4 1329.1,1001.4 1329.4,999.5 1329.6,999.8 1329.9,1000.7 1330.1,1001.2 1330.4,999.3 1330.6,998.9 1330.9,1000.4 1331.1,1000.1 1331.4,998.3 1331.6,998.8 1331.9,1000.5 1332.1,999.5 1332.4,998.0 1332.6,997.5 1332.9,998.6 1333.1,998.7 1333.4,997.0 1333.6,997.5 1333.9,998.6 1334.1,998.4 1334.4,996.6 1334.6,996.5 1334.9,997.1 1335.1,997.9 1335.4,995.4 1335.6,995.3 1335.9,997.7 1336.1,996.9 1336.4,995.7 1336.6,995.1 1336.9,997.2 1337.1,997.9 1337.4,996.1 1337.6,996.5 1337.9,999.2 1338.1,999.9 1338.4,998.1 1338.6,998.2 1338.9,1000.7 1339.1,1001.1 1339.4,997.8 1339.6,997.1 1339.9,999.2 1340.1,997.6 1340.4,995.7 1340.6,995.8 1340.9,998.6 1341.1,1000.9 1341.4,997.9 1341.6,999.6 1341.9,1003.1 1342.1,1003.9 1342.4,1001.8 1342.6,1003.5 1342.9,1005.1 1343.1,1004.9 1343.4,1002.6 1343.6,1002.3 1343.9,1003.6 1344.1,1002.5 1344.4,1001.0 1344.6,999.9 1344.9,1002.1 1345.1,1000.5 1345.4,999.1 1345.6,997.4 1345.9,1000.4 1346.1,998.8 1346.4,997.0 1346.6,996.4 1346.9,998.0 1347.1,997.9 1347.4,995.3 1347.6,995.2 1347.9,997.9 1348.1,999.9 1348.4,997.2 1348.6,997.6 1348.9,1000.3 1349.1,1002.0 1349.4,999.3 1349.6,1000.3 1349.9,1002.9 1350.1,1004.0 1350.4,1000.9 1350.6,999.5 1350.9,1002.7 1351.1,1000.6 1351.4,998.7 1351.6,995.3 1351.9,998.9 1352.1,998.0 1352.4,994.6 1352.6,995.5 1352.9,996.9 1353.1,997.0 1353.4,996.6 1353.6,996.2 1353.9,997.6 1354.1,997.9 1354.4,996.8 1354.6,996.0 1354.9,998.2 1355.1,997.2 1355.4,995.9 1355.6,995.6 1355.9,999.5 1356.1,998.5 1356.4,997.4 1356.6,997.3 1356.9,999.8 1357.1,999.7 1357.4,997.8 1357.6,998.0 1357.9,999.7 1358.1,999.9 1358.4,998.8 1358.6,997.1 1358.9,1000.2 1359.1,999.0 1359.4,996.0 1359.6,994.3 1359.9,997.1 1360.1,995.6 1360.4,994.0 1360.6,993.0 1360.9,995.3 1361.1,993.4 1361.4,991.1 1361.6,988.7 1361.9,992.4 1362.1,990.4 1362.4,986.7 1362.6,984.1 1362.9,988.5 1363.1,986.1 1363.4,984.3 1363.6,983.2 1363.9,984.9 1364.1,985.0 1364.4,984.3 1364.6,983.8 1364.9,984.9 1365.1,984.8 1365.4,983.5 1365.6,983.3 1365.9,985.1 1366.1,985.0 1366.4,983.6 1366.6,982.7 1366.9,984.1 1367.1,986.0 1367.4,983.7 1367.6,984.2 1367.9,986.4 1368.1,987.2 1368.4,984.8 1368.6,986.6 1368.9,988.6 1369.1,989.1 1369.4,986.7 1369.6,988.1 1369.9,990.5 1370.1,990.7 1370.4,988.5 1370.6,990.1 1370.9,992.1 1371.1,992.7 1371.4,989.7 1371.6,990.6 1371.9,993.7 1372.1,993.6 1372.4,989.9 1372.6,989.6 1372.9,990.8 1373.1,991.6 1373.4,988.1 1373.6,987.0 1373.9,989.4 1374.1,987.5 1374.4,985.9 1374.6,984.7 1374.9,988.3 1375.1,988.6 1375.4,984.9 1375.6,986.9 1375.9,989.2 1376.1,992.0 1376.4,988.6 1376.6,989.7 1376.9,993.8 1377.1,995.4 1377.4,992.5 1377.6,992.3 1377.9,995.9 1378.1,995.9 1378.4,995.3 1378.6,994.6 1378.9,995.8 1379.1,995.7 1379.4,994.2 1379.6,992.7 1379.9,994.9 1380.1,994.5 1380.4,994.0 1380.6,993.0 1380.9,994.4 1381.1,995.0 1381.4,992.8 1381.6,992.5 1381.9,994.1 1382.1,995.1 1382.4,992.7 1382.6,993.7 1382.9,995.6 1383.1,996.8 1383.4,993.6 1383.6,994.9 1383.9,996.7 1384.1,997.7 1384.4,996.0 1384.6,997.3 1384.9,999.4 1385.1,999.2 1385.4,996.7 1385.6,995.0 1385.9,996.9 1386.1,997.0 1386.4,993.5 1386.6,992.6 1386.9,995.1 1387.1,993.3 1387.4,992.2 1387.6,991.9 1387.9,994.5 1388.1,995.2 1388.4,993.1 1388.6,993.7 1388.9,996.0 1389.1,997.1 1389.4,995.0 1389.6,995.6 1389.9,999.6 1390.1,998.6 1390.4,995.5 1390.6,998.3 1390.9,1001.4 1391.1,999.5 1391.4,998.0 1391.6,997.4 1391.9,998.9 1392.1,998.5 1392.4,996.4 1392.6,995.3 1392.9,998.6 1393.1,996.0 1393.4,994.1 1393.6,992.8 1393.9,995.2 1394.1,995.1 1394.4,993.0 1394.6,991.9 1394.9,994.0 1395.1,992.5 1395.4,990.8 1395.6,988.8 1395.9,992.4 1396.1,991.0 1396.4,988.3 1396.6,987.0 1396.9,989.2 1397.1,988.5 1397.4,985.5 1397.6,985.7 1397.9,987.7 1398.1,988.3 1398.4,985.6 1398.6,987.3 1398.9,988.2 1399.1,988.1 1399.4,987.1 1399.6,987.8 1399.9,988.4 1400.1,988.6 1400.4,987.7 1400.6,987.5 1400.9,989.2 1401.1,988.8 1401.4,985.8 1401.6,983.2 1401.9,987.1 1402.1,984.9 1402.4,982.9 1402.6,982.4 1402.9,986.0 1403.1,985.8 1403.4,984.5 1403.6,984.9 1403.9,985.6 1404.1,987.0 1404.4,985.1 1404.6,985.2 1404.9,987.9 1405.1,987.4 1405.4,985.4 1405.6,980.9 1405.9,987.2 1406.1,982.4 1406.4,978.2 1406.6,974.5 1406.9,980.0 1407.1,976.3 1407.4,973.5 1407.6,972.7 1407.9,975.2 1408.1,975.2 1408.4,972.0 1408.6,971.3 1408.9,974.7 1409.1,974.2 1409.4,971.9 1409.6,971.2 1409.9,973.2 1410.1,972.0 1410.4,971.5 1410.6,970.5 1410.9,972.5 1411.1,971.7 1411.4,969.8 1411.6,968.8 1411.9,972.7 1412.1,973.6 1412.4,971.1 1412.6,970.9 1412.9,974.7 1413.1,974.7 1413.4,972.5 1413.6,973.3 1413.9,976.2 1414.1,974.8 1414.4,970.0 1414.6,965.4 1414.9,971.5 1415.1,967.4 1415.4,962.2 1415.6,962.2 1415.9,963.4 1416.1,963.1 1416.4,961.9 1416.6,959.8 1416.9,962.6 1417.1,962.1 1417.4,958.8 1417.6,960.2 1417.9,963.4 1418.1,968.3 1418.4,962.1 1418.6,966.5 1418.9,972.6 1419.1,977.0 1419.4,971.4 1419.6,973.3 1419.9,976.6 1420.1,973.4 1420.4,971.2 1420.6,968.8 1420.9,972.6 1421.1,969.4 1421.4,965.1 1421.6,964.0 1421.9,967.3 1422.1,967.2 1422.4,963.0 1422.6,961.8 1422.9,964.0 1423.1,964.7 1423.4,962.6 1423.6,963.1 1423.9,965.0 1424.1,964.8 1424.4,963.9 1424.6,963.3 1424.9,965.3 1425.1,966.5 1425.4,964.1 1425.6,965.0 1425.9,969.6 1426.1,974.0 1426.4,968.7 1426.6,972.6 1426.9,975.9 1427.1,978.8 1427.4,974.7 1427.6,978.4 1427.9,982.5 1428.1,982.4 1428.4,977.9 1428.6,975.3 1428.9,979.5 1429.1,976.6 1429.4,972.7 1429.6,970.5 1429.9,974.0 1430.1,971.8 1430.4,967.0 1430.6,967.7 1430.9,968.9 1431.1,969.0 1431.4,966.3 1431.6,966.1 1431.9,967.7 1432.1,966.6 1432.4,964.5 1432.6,965.1 1432.9,965.9 1433.1,966.1 1433.4,963.7 1433.6,963.7 1433.9,966.8 1434.1,968.9 1434.4,966.1 1434.6,967.4 1434.9,970.9 1435.1,973.3 1435.4,969.6 1435.6,971.4 1435.9,974.3 1436.1,974.3 1436.4,972.2 1436.6,972.6 1436.9,973.6 1437.1,974.1 1437.4,972.4 1437.6,972.1 1437.9,973.4 1438.1,973.2 1438.4,972.1 1438.6,971.2 1438.9,972.7 1439.1,974.0 1439.4,972.2 1439.6,972.4 1439.9,974.0 1440.1,975.3 1440.4,973.0 1440.6,973.5 1440.9,975.3 1441.1,977.0 1441.4,974.5 1441.6,975.5 1441.9,978.2 1442.1,978.8 1442.4,975.0 1442.6,976.6 1442.9,978.0 1443.1,979.2 1443.4,977.0 1443.6,978.0 1443.9,979.4 1444.1,980.1 1444.4,978.0 1444.6,978.9 1444.9,980.0 1445.1,980.7 1445.4,979.3 1445.6,979.3 1445.9,981.8 1446.1,981.5 1446.4,980.6 1446.6,979.4 1446.9,982.7 1447.1,981.3 1447.4,978.7 1447.6,977.7 1447.9,980.5 1448.1,979.3 1448.4,975.9 1448.6,975.6 1448.9,978.1 1449.1,976.5 1449.4,974.2 1449.6,972.5 1449.9,974.9 1450.1,972.6 1450.4,968.3 1450.6,965.2 1450.9,969.3 1451.1,966.3 1451.4,960.8 1451.6,961.4 1451.9,964.3 1452.1,963.4 1452.4,961.1 1452.6,961.0 1452.9,964.3 1453.1,964.0 1453.4,962.7 1453.6,963.6 1453.9,965.0 1454.1,964.2 1454.4,962.4 1454.6,962.1 1454.9,965.1 1455.1,963.2 1455.4,960.7 1455.6,960.8 1455.9,962.2 1456.1,962.5 1456.4,959.6 1456.6,957.7 1456.9,962.0 1457.1,968.6 1457.4,959.6 1457.6,967.3 1457.9,976.2 1458.1,982.2 1458.4,975.3 1458.6,980.9 1458.9,981.9 1459.1,981.3 1459.4,980.7 1459.6,979.8 1459.9,981.7 1460.1,981.4 1460.4,979.6 1460.6,978.1 1460.9,980.2 1461.1,978.3 1461.4,972.7 1461.6,968.8 1461.9,975.1 1462.1,970.8 1462.4,965.9 1462.6,963.0 1462.9,967.9 1463.1,975.0 1463.4,965.9 1463.6,974.2 1463.9,983.9 1464.1,981.2 1464.4,977.4 1464.6,973.1 1464.9,978.0 1465.1,975.9 1465.4,970.1 1465.6,966.5 1465.9,972.4 1466.1,968.3 1466.4,964.7 1466.6,966.2 1466.9,968.7 1467.1,970.2 1467.4,967.3 1467.6,968.9 1467.9,971.5 1468.1,972.4 1468.4,970.5 1468.6,970.9 1468.9,977.4 1469.1,984.5 1469.4,975.9 1469.6,983.7 1469.9,991.8 1470.1,998.4 1470.4,990.2 1470.6,996.3 1470.9,1000.2 1471.1,997.2 1471.4,994.6 1471.6,990.7 1471.9,995.6 1472.1,992.7 1472.4,989.0 1472.6,986.8 1472.9,990.7 1473.1,987.5 1473.4,984.7 1473.6,982.1 1473.9,986.0 1474.1,984.5 1474.4,981.1 1474.6,979.2 1474.9,982.4 1475.1,981.1 1475.4,977.4 1475.6,975.7 1475.9,978.8 1476.1,978.0 1476.4,974.7 1476.6,972.5 1476.9,976.2 1477.1,973.6 1477.4,971.1 1477.6,970.5 1477.9,973.2 1478.1,971.7 1478.4,969.0 1478.6,967.0 1478.9,971.2 1479.1,969.1 1479.4,965.5 1479.6,963.6 1479.9,967.9 1480.1,965.3 1480.4,964.1 1480.6,963.8 1480.9,965.0 1481.1,963.9 1481.4,963.4 1481.6,962.0 1481.9,964.1 1482.1,963.4 1482.4,962.2 1482.6,959.3 1482.9,963.0 1483.1,962.6 1483.4,959.2 1483.6,956.2 1483.9,960.0 1484.1,958.0 1484.4,955.2 1484.6,954.1 1484.9,957.5 1485.1,955.8 1485.4,952.5 1485.6,952.2 1485.9,954.4 1486.1,953.7 1486.4,951.1 1486.6,949.8 1486.9,952.1 1487.1,950.7 1487.4,948.8 1487.6,948.7 1487.9,949.7 1488.1,949.5 1488.4,947.6 1488.6,947.1 1488.9,949.2 1489.1,948.7 1489.4,947.6 1489.6,946.9 1489.9,949.3 1490.1,953.2 1490.4,947.1 1490.6,950.4 1490.9,956.8 1491.1,962.0 1491.4,956.6 1491.6,961.4 1491.9,965.2 1492.1,963.8 1492.4,961.3 1492.6,958.4 1492.9,963.2 1493.1,960.8 1493.4,956.5 1493.6,954.9 1493.9,958.5 1494.1,963.8 1494.4,955.0 1494.6,963.3 1494.9,971.1 1495.1,969.4 1495.4,965.2 1495.6,962.7 1495.9,966.8 1496.1,963.4 1496.4,960.6 1496.6,956.7 1496.9,960.7 1497.1,958.4 1497.4,955.8 1497.6,956.0 1497.9,958.0 1498.1,958.6 1498.4,956.9 1498.6,957.3 1498.9,960.1 1499.1,961.5 1499.4,959.3 1499.6,959.3 1499.9,961.9 1500.1,962.5 1500.4,959.9 1500.6,956.6 1500.9,960.3 1501.1,957.5 1501.4,953.1 1501.6,950.4 1501.9,954.6 1502.1,952.3 1502.4,950.8 1502.6,949.4 1502.9,952.1 1503.1,953.5 1503.4,951.6 1503.6,951.2 1503.9,953.6 1504.1,954.4 1504.4,951.6 1504.6,952.1 1504.9,953.8 1505.1,961.6 1505.4,952.8 1505.6,959.7 1505.9,967.1 1506.1,971.0 1506.4,965.8 1506.6,970.5 1506.9,975.1 1507.1,979.3 1507.4,974.8 1507.6,977.8 1507.9,983.4 1508.1,984.5 1508.4,982.9 1508.6,980.8 1508.9,983.7 1509.1,982.4 1509.4,979.4 1509.6,977.9 1509.9,981.1 1510.1,980.0 1510.4,977.6 1510.6,975.0 1510.9,978.3 1511.1,977.3 1511.4,973.7 1511.6,972.0 1511.9,975.4 1512.1,974.7 1512.4,972.8 1512.6,973.5 1512.9,975.1 1513.1,976.0 1513.4,973.8 1513.6,974.6 1513.9,976.8 1514.1,979.3 1514.4,974.7 1514.6,977.6 1514.9,983.2 1515.1,986.9 1515.4,981.1 1515.6,985.3 1515.9,986.9 1516.1,985.8 1516.4,983.4 1516.6,982.4 1516.9,986.3 1517.1,985.0 1517.4,981.3 1517.6,980.8 1517.9,982.7 1518.1,981.6 1518.4,978.7 1518.6,979.4 1518.9,979.9 1519.1,980.2 1519.4,978.8 1519.6,977.8 1519.9,981.1 1520.1,980.2 1520.4,977.6 1520.6,978.3 1520.9,980.1 1521.1,980.5 1521.4,978.5 1521.6,979.2 1521.9,982.7 1522.1,984.3 1522.4,981.8 1522.6,981.9 1522.9,985.5 1523.1,986.5 1523.4,984.2 1523.6,985.8 1523.9,987.9 1524.1,989.6 1524.4,985.6 1524.6,987.1 1524.9,989.8 1525.1,990.1 1525.4,988.6 1525.6,988.7 1525.9,991.6 1526.1,991.7 1526.4,986.6 1526.6,981.7 1526.9,988.1 1527.1,983.0 1527.4,977.9 1527.6,974.9 1527.9,979.5 1528.1,977.0 1528.4,976.4 1528.6,975.3 1528.9,976.4 1529.1,976.6 1529.4,975.5 1529.6,974.7 1529.9,976.3 1530.1,975.8 1530.4,974.1 1530.6,973.9 1530.9,975.6 1531.1,975.1 1531.4,973.4 1531.6,973.5 1531.9,975.7 1532.1,974.6 1532.4,972.7 1532.6,973.1 1532.9,973.8 1533.1,975.4 1533.4,971.8 1533.6,973.7 1533.9,977.0 1534.1,979.9 1534.4,976.4 1534.6,977.8 1534.9,980.4 1535.1,978.5 1535.4,973.0 1535.6,969.4 1535.9,974.5 1536.1,972.4 1536.4,968.6 1536.6,972.4 1536.9,979.8 1537.1,986.8 1537.4,977.7 1537.6,985.1 1537.9,991.7 1538.1,995.0 1538.4,989.9 1538.6,993.3 1538.9,997.5 1539.1,1000.6 1539.4,996.3 1539.6,999.7 1539.9,1005.8 1540.1,1014.0 1540.4,1003.3 1540.6,1012.4 1540.9,1025.0 1541.1,1024.4 1541.4,1023.8 1541.6,1023.0 1541.9,1023.9 1542.1,1024.3 1542.4,1022.1 1542.6,1018.1 1542.9,1023.2 1543.1,1018.4 1543.4,1007.5 1543.6,999.6 1543.9,1008.5 1544.1,1002.3 1544.4,997.1 1544.6,992.9 1544.9,998.1 1545.1,994.3 1545.4,988.8 1545.6,987.6 1545.9,989.3 1546.1,989.8 1546.4,987.8 1546.6,988.2 1546.9,989.9 1547.1,990.2 1547.4,988.6 1547.6,988.6 1547.9,991.1 1548.1,990.8 1548.4,990.2 1548.6,987.1 1548.9,992.1 1549.1,988.5 1549.4,981.9 1549.6,980.1 1549.9,982.5 1550.1,981.7 1550.4,980.3 1550.6,979.0 1550.9,982.1 1551.1,980.7 1551.4,979.9 1551.6,979.0 1551.9,982.0 1552.1,979.4 1552.4,974.8 1552.6,971.2 1552.9,976.8 1553.1,972.7 1553.4,969.0 1553.6,967.2 1553.9,970.5 1554.1,968.5 1554.4,966.7 1554.6,965.9 1554.9,967.9 1555.1,973.2 1555.4,966.0 1555.6,971.1 1555.9,978.0 1556.1,984.1 1556.4,976.2 1556.6,981.2 1556.9,985.2 1557.1,982.1 1557.4,980.4 1557.6,979.7 1557.9,981.6 1558.1,980.7 1558.4,977.7 1558.6,975.7 1558.9,979.3 1559.1,978.1 1559.4,974.9 1559.6,973.1 1559.9,976.9 1560.1,975.2 1560.4,973.2 1560.6,973.0 1560.9,974.3 1561.1,974.6 1561.4,971.7 1561.6,972.2 1561.9,974.0 1562.1,972.5 1562.4,971.4 1562.6,969.8 1562.9,972.1 1563.1,970.9 1563.4,969.5 1563.6,968.3 1563.9,970.3 1564.1,973.6 1564.4,967.3 1564.6,971.2 1564.9,977.6 1565.1,983.7 1565.4,976.9 1565.6,981.7 1565.9,983.7 1566.1,984.1 1566.4,981.7 1566.6,982.5 1566.9,984.5 1567.1,984.1 1567.4,982.5 1567.6,982.0 1567.9,984.5 1568.1,985.5 1568.4,983.3 1568.6,983.7 1568.9,983.9 1569.1,988.4 1569.4,982.7 1569.6,986.7 1569.9,991.5 1570.1,994.9 1570.4,990.4 1570.6,993.8 1570.9,997.9 1571.1,997.5 1571.4,996.1 1571.6,996.4 1571.9,997.9 1572.1,998.3 1572.4,997.2 1572.6,998.0 1572.9,1000.4 1573.1,1000.5 1573.4,998.6 1573.6,999.1 1573.9,1000.7 1574.1,1000.1 1574.4,996.2 1574.6,993.1 1574.9,997.2 1575.1,995.4 1575.4,991.1 1575.6,991.4 1575.9,994.5 1576.1,999.0 1576.4,993.6 1576.6,995.4 1576.9,1001.6 1577.1,1005.8 1577.4,1000.0 1577.6,1003.1 1577.9,1005.1 1578.1,1004.7 1578.4,1002.2 1578.6,1001.5 1578.9,1004.3 1579.1,1001.9 1579.4,999.9 1579.6,998.7 1579.9,1000.3 1580.1,999.5 1580.4,987.5 1580.6,981.3 1580.9,987.8 1581.1,982.4 1581.4,981.1 1581.6,979.9 1581.9,982.8 1582.1,981.9 1582.4,980.3 1582.6,980.1 1582.9,981.5 1583.1,981.0 1583.4,979.9 1583.6,979.3 1583.9,980.3 1584.1,980.9 1584.4,978.6 1584.6,978.0 1584.9,980.8 1585.1,979.0 1585.4,976.0 1585.6,976.0 1585.9,978.6 1586.1,978.1 1586.4,975.7 1586.6,976.1 1586.9,978.9 1587.1,979.9 1587.4,977.3 1587.6,978.0 1587.9,979.5 1588.1,981.0 1588.4,978.8 1588.6,979.6 1588.9,981.5 1589.1,982.8 1589.4,980.0 1589.6,977.6 1589.9,981.5 1590.1,978.8 1590.4,976.1 1590.6,973.8 1590.9,977.5 1591.1,976.5 1591.4,974.2 1591.6,973.6 1591.9,976.0 1592.1,977.4 1592.4,975.6 1592.6,976.7 1592.9,977.7 1593.1,978.8 1593.4,977.0 1593.6,973.1 1593.9,980.3 1594.1,973.9 1594.4,965.6 1594.6,965.4 1594.9,970.1 1595.1,972.5 1595.4,969.1 1595.6,971.0 1595.9,975.3 1596.1,977.6 1596.4,974.0 1596.6,975.7 1596.9,980.7 1597.1,982.1 1597.4,977.9 1597.6,981.4 1597.9,984.2 1598.1,984.6 1598.4,979.3 1598.6,974.4 1598.9,980.2 1599.1,977.0 1599.4,970.0 1599.6,967.4 1599.9,971.5 1600.1,968.9 1600.4,965.3 1600.6,962.1 1600.9,966.6 1601.1,963.6 1601.4,958.6 1601.6,957.9 1601.9,960.6 1602.1,959.0 1602.4,957.5 1602.6,957.1 1602.9,959.3 1603.1,958.9 1603.4,958.0 1603.6,957.2 1603.9,959.9 1604.1,959.6 1604.4,958.1 1604.6,957.9 1604.9,959.7 1605.1,960.6 1605.4,957.9 1605.6,959.6 1605.9,962.9 1606.1,963.4 1606.4,960.9 1606.6,961.6 1606.9,966.2 1607.1,967.0 1607.4,963.7 1607.6,962.4 1607.9,966.5 1608.1,964.6 1608.4,960.9 1608.6,958.5 1608.9,962.3 1609.1,960.1 1609.4,957.0 1609.6,955.3 1609.9,958.0 1610.1,957.5 1610.4,955.9 1610.6,956.7 1610.9,957.6 1611.1,958.9 1611.4,956.5 1611.6,955.8 1611.9,958.4 1612.1,959.0 1612.4,953.4 1612.6,948.9 1612.9,954.7 1613.1,953.0 1613.4,949.5 1613.6,951.9 1613.9,956.0 1614.1,959.8 1614.4,955.7 1614.6,957.6 1614.9,961.0 1615.1,960.5 1615.4,958.7 1615.6,958.0 1615.9,959.8 1616.1,959.0 1616.4,956.7 1616.6,955.0 1616.9,958.1 1617.1,956.6 1617.4,953.8 1617.6,954.5 1617.9,955.4 1618.1,956.5 1618.4,954.7 1618.6,954.3 1618.9,955.0 1619.1,956.2 1619.4,954.9 1619.6,954.7 1619.9,955.0 1620.1,955.0 1620.4,954.8 1620.6,953.3 1620.9,957.0 1621.1,954.3 1621.4,951.0 1621.6,949.2 1621.9,951.8 1622.1,950.9 1622.4,946.9 1622.6,945.6 1622.9,948.1 1623.1,948.3 1623.4,944.8 1623.6,947.9 1623.9,950.0 1624.1,952.0 1624.4,949.4 1624.6,946.6 1624.9,952.0 1625.1,948.1 1625.4,944.1 1625.6,940.6 1625.9,945.4 1626.1,941.9 1626.4,939.3 1626.6,940.5 1626.9,943.1 1627.1,943.9 1627.4,942.2 1627.6,943.4 1627.9,944.7 1628.1,945.8 1628.4,943.5 1628.6,945.0 1628.9,948.1 1629.1,949.9 1629.4,946.8 1629.6,948.9 1629.9,952.2 1630.1,953.3 1630.4,951.0 1630.6,953.1 1630.9,955.8 1631.1,957.2 1631.4,955.2 1631.6,956.3 1631.9,958.5 1632.1,957.1 1632.4,956.2 1632.6,955.4 1632.9,956.6 1633.1,955.8 1633.4,954.5 1633.6,954.2 1633.9,956.0 1634.1,954.6 1634.4,953.6 1634.6,950.4 1634.9,954.1 1635.1,951.7 1635.4,947.9 1635.6,944.8 1635.9,949.5 1636.1,946.0 1636.4,941.7 1636.6,939.4 1636.9,942.7 1637.1,941.4 1637.4,939.4 1637.6,939.1 1637.9,944.4 1638.1,946.5 1638.4,942.4 1638.6,944.5 1638.9,948.3 1639.1,950.1 1639.4,947.0 1639.6,948.8 1639.9,951.9 1640.1,952.1 1640.4,949.8 1640.6,949.4 1640.9,951.7 1641.1,950.5 1641.4,947.7 1641.6,945.9 1641.9,949.0 1642.1,947.3 1642.4,945.1 1642.6,938.5 1642.9,946.8 1643.1,941.8 1643.4,935.3 1643.6,930.3 1643.9,936.4 1644.1,930.7 1644.4,926.6 1644.6,925.3 1644.9,928.6 1645.1,927.4 1645.4,924.1 1645.6,921.5 1645.9,925.2 1646.1,925.4 1646.4,921.7 1646.6,922.4 1646.9,927.8 1647.1,930.9 1647.4,926.0 1647.6,928.7 1647.9,932.7 1648.1,935.3 1648.4,931.1 1648.6,935.3 1648.9,948.0 1649.1,950.6 1649.4,946.3 1649.6,949.4 1649.9,952.5 1650.1,955.6 1650.4,952.5 1650.6,954.0 1650.9,956.8 1651.1,957.0 1651.4,955.1 1651.6,953.2 1651.9,956.1 1652.1,954.8 1652.4,953.1 1652.6,952.5 1652.9,954.8 1653.1,954.7 1653.4,950.8 1653.6,951.4 1653.9,957.2 1654.1,961.3 1654.4,955.9 1654.6,959.7 1654.9,965.0 1655.1,965.1 1655.4,964.1 1655.6,964.0 1655.9,964.9 1656.1,965.4 1656.4,962.7 1656.6,963.6 1656.9,965.2 1657.1,966.1 1657.4,963.6 1657.6,965.0 1657.9,965.7 1658.1,966.1 1658.4,963.1 1658.6,960.0 1658.9,963.9 1659.1,961.3 1659.4,956.6 1659.6,954.8 1659.9,959.0 1660.1,956.2 1660.4,951.6 1660.6,952.7 1660.9,953.9 1661.1,955.1 1661.4,953.5 1661.6,953.9 1661.9,956.3 1662.1,959.5 1662.4,955.1 1662.6,957.9 1662.9,962.2 1663.1,966.0 1663.4,960.5 1663.6,963.4 1663.9,967.7 1664.1,968.7 1664.4,966.6 1664.6,968.2 1664.9,971.7 1665.1,973.9 1665.4,970.4 1665.6,972.5 1665.9,975.3 1666.1,979.0 1666.4,974.4 1666.6,977.8 1666.9,985.8 1667.1,992.2 1667.4,984.3 1667.6,990.6 1667.9,996.3 1668.1,995.1 1668.4,991.5 1668.6,989.2 1668.9,992.4 1669.1,990.6 1669.4,987.0 1669.6,984.2 1669.9,987.7 1670.1,985.5 1670.4,981.7 1670.6,984.6 1670.9,988.4 1671.1,989.7 1671.4,986.9 1671.6,989.5 1671.9,993.2 1672.1,995.7 1672.4,991.1 1672.6,993.5 1672.9,996.3 1673.1,994.2 1673.4,991.7 1673.6,992.1 1673.9,993.3 1674.1,993.2 1674.4,990.4 1674.6,989.3 1674.9,991.4 1675.1,990.5 1675.4,989.6 1675.6,989.5 1675.9,991.5 1676.1,992.8 1676.4,989.4 1676.6,991.1 1676.9,993.8 1677.1,994.0 1677.4,991.6 1677.6,993.3 1677.9,995.6 1678.1,996.0 1678.4,989.2 1678.6,985.2 1678.9,991.4 1679.1,985.7 1679.4,981.4 1679.6,979.8 1679.9,981.5 1680.1,981.7 1680.4,978.2 1680.6,976.9 1680.9,978.9 1681.1,978.2 1681.4,975.4 1681.6,974.9 1681.9,977.3 1682.1,975.9 1682.4,972.1 1682.6,970.0 1682.9,973.9 1683.1,971.1 1683.4,968.2 1683.6,969.3 1683.9,973.3 1684.1,976.5 1684.4,970.9 1684.6,975.7 1684.9,979.9 1685.1,980.1 1685.4,977.1 1685.6,978.9 1685.9,979.8 1686.1,980.9 1686.4,978.3 1686.6,979.3 1686.9,984.7 1687.1,987.8 1687.4,982.7 1687.6,987.6 1687.9,992.2 1688.1,995.1 1688.4,991.5 1688.6,994.4 1688.9,996.7 1689.1,998.8 1689.4,995.9 1689.6,998.4 1689.9,1001.5 1690.1,1002.5 1690.4,1000.1 1690.6,1001.5 1690.9,1005.5 1691.1,1005.6 1691.4,1002.9 1691.6,999.1 1691.9,1003.6 1692.1,1000.5 1692.4,994.6 1692.6,991.3 1692.9,996.5 1693.1,992.2 1693.4,987.7 1693.6,985.1 1693.9,989.8 1694.1,986.8 1694.4,982.8 1694.6,982.7 1694.9,985.0 1695.1,986.7 1695.4,984.0 1695.6,985.7 1695.9,988.2 1696.1,988.6 1696.4,985.8 1696.6,982.5 1696.9,986.9 1697.1,984.6 1697.4,979.5 1697.6,977.0 1697.9,982.3 1698.1,979.3 1698.4,974.8 1698.6,973.2 1698.9,976.5 1699.1,974.7 1699.4,972.0 1699.6,971.6 1699.9,974.0 1700.1,972.6 1700.4,970.4 1700.6,971.1 1700.9,974.8 1701.1,978.1 1701.4,975.0 1701.6,977.0 1701.9,981.8 1702.1,982.6 1702.4,979.8 1702.6,981.5 1702.9,983.4 1703.1,984.2 1703.4,982.2 1703.6,983.3 1703.9,984.6 1704.1,985.3 1704.4,984.4 1704.6,984.5 1704.9,986.9 1705.1,986.4 1705.4,985.7 1705.6,985.6 1705.9,988.4 1706.1,988.6 1706.4,984.5 1706.6,982.6 1706.9,986.2 1707.1,983.3 1707.4,980.8 1707.6,979.5 1707.9,981.5 1708.1,980.2 1708.4,979.6 1708.6,978.4 1708.9,979.8 1709.1,979.6 1709.4,978.5 1709.6,977.3 1709.9,980.2 1710.1,978.6 1710.4,977.6 1710.6,977.3 1710.9,978.9 1711.1,980.6 1711.4,978.5 1711.6,977.8 1711.9,982.4 1712.1,983.9 1712.4,981.1 1712.6,983.1 1712.9,985.0 1713.1,986.7 1713.4,984.0 1713.6,985.7 1713.9,987.6 1714.1,987.9 1714.4,986.1 1714.6,986.9 1714.9,987.8 1715.1,987.2 1715.4,986.7 1715.6,984.9 1715.9,986.9 1716.1,987.1 1716.4,984.7 1716.6,980.8 1716.9,984.6 1717.1,981.7 1717.4,976.7 1717.6,974.8 1717.9,978.4 1718.1,976.3 1718.4,974.4 1718.6,973.7 1718.9,975.0 1719.1,974.7 1719.4,973.2 1719.6,972.8 1719.9,976.9 1720.1,978.4 1720.4,975.7 1720.6,977.6 1720.9,980.4 1721.1,983.2 1721.4,979.3 1721.6,981.3 1721.9,985.6 1722.1,988.5 1722.4,983.7 1722.6,986.4 1722.9,991.4 1723.1,994.4 1723.4,989.5 1723.6,992.2 1723.9,995.8 1724.1,995.7 1724.4,993.4 1724.6,992.8 1724.9,994.2 1725.1,993.6 1725.4,991.1 1725.6,989.8 1725.9,993.9 1726.1,991.0 1726.4,988.3 1726.6,986.2 1726.9,990.5 1727.1,988.5 1727.4,984.9 1727.6,983.3 1727.9,985.7 1728.1,984.3 1728.4,980.3 1728.6,979.7 1728.9,981.5 1729.1,981.8 1729.4,980.0 1729.6,981.8 1729.9,983.2 1730.1,984.9 1730.4,982.8 1730.6,983.4 1730.9,985.2 1731.1,985.9 1731.4,983.6 1731.6,982.8 1731.9,985.2 1732.1,984.9 1732.4,981.7 1732.6,981.5 1732.9,983.2 1733.1,982.5 1733.4,980.5 1733.6,980.3 1733.9,982.8 1734.1,982.4 1734.4,981.1 1734.6,981.3 1734.9,983.7 1735.1,983.9 1735.4,982.2 1735.6,980.3 1735.9,983.8 1736.1,984.1 1736.4,978.8 1736.6,977.1 1736.9,980.0 1737.1,977.3 1737.4,974.9 1737.6,975.6 1737.9,978.0 1738.1,978.3 1738.4,976.9 1738.6,976.1 1738.9,980.1 1739.1,981.0 1739.4,978.2 1739.6,978.5 1739.9,980.7 1740.1,979.2 1740.4,975.1 1740.6,973.2 1740.9,976.8 1741.1,974.7 1741.4,971.4 1741.6,968.5 1741.9,972.9 1742.1,971.2 1742.4,968.2 1742.6,967.0 1742.9,969.8 1743.1,968.7 1743.4,964.8 1743.6,964.6 1743.9,967.6 1744.1,967.4 1744.4,965.5 1744.6,967.1 1744.9,969.1 1745.1,970.2 1745.4,967.9 1745.6,967.4 1745.9,971.6 1746.1,975.3 1746.4,969.4 1746.6,974.4 1746.9,978.5 1747.1,982.8 1747.4,976.7 1747.6,980.4 1747.9,983.0 1748.1,982.2 1748.4,979.4 1748.6,978.2 1748.9,980.0 1749.1,979.4 1749.4,977.9 1749.6,976.1 1749.9,978.2 1750.1,976.9 1750.4,975.0 1750.6,975.1 1750.9,977.7 1751.1,980.9 1751.4,976.9 1751.6,978.9 1751.9,982.7 1752.1,984.6 1752.4,981.1 1752.6,979.2 1752.9,986.3 1753.1,981.0 1753.4,974.9 1753.6,972.8 1753.9,976.0 1754.1,974.9 1754.4,972.8 1754.6,973.6 1754.9,975.2 1755.1,975.1 1755.4,973.7 1755.6,974.4 1755.9,976.6 1756.1,976.6 1756.4,975.5 1756.6,975.7 1756.9,976.5 1757.1,977.6 1757.4,975.6 1757.6,977.1 1757.9,978.6 1758.1,979.5 1758.4,977.3 1758.6,975.5 1758.9,979.6 1759.1,976.7 1759.4,971.2 1759.6,968.7 1759.9,974.5 1760.1,970.6 1760.4,969.4 1760.6,967.7 1760.9,971.3 1761.1,970.8 1761.4,969.1 1761.6,969.2 1761.9,970.7 1762.1,971.9 1762.4,969.6 1762.6,969.4 1762.9,972.0 1763.1,972.3 1763.4,969.4 1763.6,966.6 1763.9,970.3 1764.1,968.4 1764.4,963.9 1764.6,962.9 1764.9,965.5 1765.1,964.4 1765.4,961.2 1765.6,959.6 1765.9,962.1 1766.1,962.9 1766.4,959.1 1766.6,958.7 1766.9,960.6 1767.1,959.4 1767.4,957.0 1767.6,957.7 1767.9,961.0 1768.1,964.6 1768.4,959.3 1768.6,962.2 1768.9,966.3 1769.1,968.1 1769.4,964.9 1769.6,964.2 1769.9,967.6 1770.1,966.3 1770.4,962.9 1770.6,961.0 1770.9,963.3 1771.1,961.3 1771.4,958.9 1771.6,958.7 1771.9,960.6 1772.1,959.8 1772.4,957.6 1772.6,956.7 1772.9,958.7 1773.1,959.9 1773.4,956.4 1773.6,956.7 1773.9,957.4 1774.1,957.8 1774.4,955.8 1774.6,954.3 1774.9,956.8 1775.1,956.0 1775.4,953.6 1775.6,952.4 1775.9,954.7 1776.1,954.0 1776.4,952.0 1776.6,953.0 1776.9,955.0 1777.1,956.0 1777.4,954.4 1777.6,954.2 1777.9,957.1 1778.1,957.0 1778.4,955.5 1778.6,955.6 1778.9,958.5 1779.1,960.1 1779.4,957.8 1779.6,959.6 1779.9,961.8 1780.1,964.3 1780.4,960.7 1780.6,962.5 1780.9,965.8 1781.1,966.2 1781.4,964.1 1781.6,965.3 1781.9,967.9 1782.1,968.7 1782.4,966.3 1782.6,963.1 1782.9,968.1 1783.1,964.4 1783.4,958.0 1783.6,952.5 1783.9,959.5 1784.1,953.0 1784.4,949.7 1784.6,950.3 1784.9,952.8 1785.1,952.8 1785.4,951.6 1785.6,952.0 1785.9,954.1 1786.1,954.6 1786.4,952.7 1786.6,953.5 1786.9,954.8 1787.1,955.8 1787.4,954.7 1787.6,954.4 1787.9,957.3 1788.1,957.1 1788.4,954.7 1788.6,951.8 1788.9,955.5 1789.1,953.5 1789.4,949.2 1789.6,946.8 1789.9,950.7 1790.1,947.4 1790.4,944.1 1790.6,943.6 1790.9,946.0 1791.1,944.5 1791.4,943.6 1791.6,942.8 1791.9,944.6 1792.1,943.4 1792.4,941.7 1792.6,941.6 1792.9,944.8 1793.1,944.7 1793.4,942.2 1793.6,943.4 1793.9,945.3 1794.1,947.2 1794.4,944.7 1794.6,944.5 1794.9,947.0 1795.1,946.1 1795.4,941.8 1795.6,938.3 1795.9,942.8 1796.1,946.4 1796.4,938.6 1796.6,944.7 1796.9,951.2 1797.1,956.2 1797.4,949.3 1797.6,950.6 1797.9,955.8 1798.1,952.2 1798.4,947.9 1798.6,943.9 1798.9,948.3 1799.1,945.3 1799.4,939.5 1799.6,937.6 1799.9,941.8 1800.1,938.1 1800.4,934.3 1800.6,934.4 1800.9,937.2 1801.1,934.8 1801.4,932.9 1801.6,934.0 1801.9,938.4 1802.1,941.9 1802.4,937.4 1802.6,941.1 1802.9,945.4 1803.1,944.4 1803.4,936.3 1803.6,931.3 1803.9,939.1 1804.1,933.4 1804.4,925.4 1804.6,923.6 1804.9,926.8 1805.1,926.9 1805.4,925.4 1805.6,925.7 1805.9,926.1 1806.1,927.4 1806.4,925.1 1806.6,924.9 1806.9,927.5 1807.1,926.2 1807.4,921.4 1807.6,918.2 1807.9,923.1 1808.1,919.3 1808.4,916.2 1808.6,914.8 1808.9,917.9 1809.1,918.5 1809.4,917.0 1809.6,917.2 1809.9,919.0 1810.1,920.7 1810.4,918.4 1810.6,917.9 1810.9,920.7 1811.1,919.0 1811.4,915.0 1811.6,912.1 1811.9,916.8 1812.1,914.2 1812.4,909.3 1812.6,907.7 1812.9,911.0 1813.1,914.3 1813.4,909.4 1813.6,913.2 1813.9,917.7 1814.1,921.6 1814.4,916.9 1814.6,919.1 1814.9,923.8 1815.1,921.5 1815.4,914.5 1815.6,910.8 1815.9,916.1 1816.1,915.5 1816.4,908.0 1816.6,913.9 1816.9,926.8 1817.1,938.4 1817.4,926.0 1817.6,937.6 1817.9,946.3 1818.1,945.9 1818.4,944.4 1818.6,942.6 1818.9,945.4 1819.1,945.5 1819.4,938.0 1819.6,913.5 1819.9,939.0 1820.1,915.0 1820.4,905.9 1820.6,906.9 1820.9,908.4 1821.1,908.6 1821.4,906.2 1821.6,906.9 1821.9,908.6 1822.1,909.4 1822.4,907.9 1822.6,908.3 1822.9,910.0 1823.1,910.2 1823.4,905.6 1823.6,898.3 1823.9,907.6 1824.1,900.0 1824.4,892.3 1824.6,894.2 1824.9,899.4 1825.1,903.3 1825.4,897.8 1825.6,901.5 1825.9,908.3 1826.1,907.6 1826.4,904.6 1826.6,901.5 1826.9,905.5 1827.1,902.6 1827.4,899.9 1827.6,899.4 1827.9,905.8 1828.1,911.2 1828.4,903.3 1828.6,909.1 1828.9,913.6 1829.1,917.4 1829.4,911.5 1829.6,914.1 1829.9,918.8 1830.1,921.2 1830.4,917.8 1830.6,919.8 1830.9,922.7 1831.1,924.6 1831.4,920.4 1831.6,923.5 1831.9,927.6 1832.1,935.6 1832.4,926.9 1832.6,934.0 1832.9,937.8 1833.1,937.3 1833.4,934.8 1833.6,932.7 1833.9,934.9 1834.1,933.1 1834.4,931.0 1834.6,929.7 1834.9,931.7 1835.1,931.7 1835.4,930.2 1835.6,930.0 1835.9,933.3 1836.1,934.4 1836.4,931.8 1836.6,932.9 1836.9,960.1 1837.1,959.3 1837.4,957.1 1837.6,956.6 1837.9,958.3 1838.1,957.2 1838.4,955.0 1838.6,955.1 1838.9,957.1 1839.1,955.4 1839.4,953.7 1839.6,949.5 1839.9,955.6 1840.1,949.9 1840.4,943.2 1840.6,937.3 1840.9,945.2 1841.1,939.0 1841.4,933.0 1841.6,928.3 1841.9,933.4 1842.1,930.7 1842.4,924.5 1842.6,921.2 1842.9,926.5 1843.1,927.7 1843.4,922.9 1843.6,926.6 1843.9,931.9 1844.1,934.4 1844.4,930.4 1844.6,927.2 1844.9,933.6 1845.1,928.7 1845.4,924.1 1845.6,920.2 1845.9,924.5"/>
<path fill="#000" fill-rule="evenodd" d="M70.3 53H1850.9V1142.8H70.3Z M74.7 58.2V1137.6H1846.2V58.2Z"/>
<g stroke="#000" stroke-width="2.4"><line x1="63" x2="71" y1="1140.1" y2="1140.1"/><line x1="1850" x2="1858" y1="1140.1" y2="1140.1"/><line x1="68" x2="71" y1="1096.7" y2="1096.7"/><line x1="1850" x2="1853" y1="1096.7" y2="1096.7"/><line x1="68" x2="71" y1="1053.3" y2="1053.3"/><line x1="1850" x2="1853" y1="1053.3" y2="1053.3"/><line x1="68" x2="71" y1="1009.9" y2="1009.9"/><line x1="1850" x2="1853" y1="1009.9" y2="1009.9"/><line x1="68" x2="71" y1="966.6" y2="966.6"/><line x1="1850" x2="1853" y1="966.6" y2="966.6"/><line x1="63" x2="71" y1="923.2" y2="923.2"/><line x1="1850" x2="1858" y1="923.2" y2="923.2"/><line x1="68" x2="71" y1="879.8" y2="879.8"/><line x1="1850" x2="1853" y1="879.8" y2="879.8"/><line x1="68" x2="71" y1="836.4" y2="836.4"/><line x1="1850" x2="1853" y1="836.4" y2="836.4"/><line x1="68" x2="71" y1="793.0" y2="793.0"/><line x1="1850" x2="1853" y1="793.0" y2="793.0"/><line x1="68" x2="71" y1="749.6" y2="749.6"/><line x1="1850" x2="1853" y1="749.6" y2="749.6"/><line x1="63" x2="71" y1="706.3" y2="706.3"/><line x1="1850" x2="1858" y1="706.3" y2="706.3"/><line x1="68" x2="71" y1="662.9" y2="662.9"/><line x1="1850" x2="1853" y1="662.9" y2="662.9"/><line x1="68" x2="71" y1="619.5" y2="619.5"/><line x1="1850" x2="1853" y1="619.5" y2="619.5"/><line x1="68" x2="71" y1="576.1" y2="576.1"/><line x1="1850" x2="1853" y1="576.1" y2="576.1"/><line x1="68" x2="71" y1="532.7" y2="532.7"/><line x1="1850" x2="1853" y1="532.7" y2="532.7"/><line x1="63" x2="71" y1="489.3" y2="489.3"/><line x1="1850" x2="1858" y1="489.3" y2="489.3"/><line x1="68" x2="71" y1="446.0" y2="446.0"/><line x1="1850" x2="1853" y1="446.0" y2="446.0"/><line x1="68" x2="71" y1="402.6" y2="402.6"/><line x1="1850" x2="1853" y1="402.6" y2="402.6"/><line x1="68" x2="71" y1="359.2" y2="359.2"/><line x1="1850" x2="1853" y1="359.2" y2="359.2"/><line x1="68" x2="71" y1="315.8" y2="315.8"/><line x1="1850" x2="1853" y1="315.8" y2="315.8"/><line x1="63" x2="71" y1="272.4" y2="272.4"/><line x1="1850" x2="1858" y1="272.4" y2="272.4"/><line x1="68" x2="71" y1="229.0" y2="229.0"/><line x1="1850" x2="1853" y1="229.0" y2="229.0"/><line x1="68" x2="71" y1="185.7" y2="185.7"/><line x1="1850" x2="1853" y1="185.7" y2="185.7"/><line x1="68" x2="71" y1="142.3" y2="142.3"/><line x1="1850" x2="1853" y1="142.3" y2="142.3"/><line x1="68" x2="71" y1="98.9" y2="98.9"/><line x1="1850" x2="1853" y1="98.9" y2="98.9"/><line x1="63" x2="71" y1="55.5" y2="55.5"/><line x1="1850" x2="1858" y1="55.5" y2="55.5"/><line x1="72.5" x2="72.5" y1="1142" y2="1151"/><line x1="131.0" x2="131.0" y1="1142" y2="1146"/><line x1="189.5" x2="189.5" y1="1142" y2="1146"/><line x1="248.0" x2="248.0" y1="1142" y2="1146"/><line x1="306.5" x2="306.5" y1="1142" y2="1146"/><line x1="365.0" x2="365.0" y1="1142" y2="1151"/><line x1="423.2" x2="423.2" y1="1142" y2="1146"/><line x1="481.4" x2="481.4" y1="1142" y2="1146"/><line x1="539.6" x2="539.6" y1="1142" y2="1146"/><line x1="597.8" x2="597.8" y1="1142" y2="1146"/><line x1="656.0" x2="656.0" y1="1142" y2="1151"/><line x1="714.2" x2="714.2" y1="1142" y2="1146"/><line x1="772.4" x2="772.4" y1="1142" y2="1146"/><line x1="830.6" x2="830.6" y1="1142" y2="1146"/><line x1="888.8" x2="888.8" y1="1142" y2="1146"/><line x1="947.0" x2="947.0" y1="1142" y2="1151"/><line x1="1005.2" x2="1005.2" y1="1142" y2="1146"/><line x1="1063.4" x2="1063.4" y1="1142" y2="1146"/><line x1="1121.6" x2="1121.6" y1="1142" y2="1146"/><line x1="1179.8" x2="1179.8" y1="1142" y2="1146"/><line x1="1238.0" x2="1238.0" y1="1142" y2="1151"/><line x1="1296.2" x2="1296.2" y1="1142" y2="1146"/><line x1="1354.4" x2="1354.4" y1="1142" y2="1146"/><line x1="1412.6" x2="1412.6" y1="1142" y2="1146"/><line x1="1470.8" x2="1470.8" y1="1142" y2="1146"/><line x1="1529.0" x2="1529.0" y1="1142" y2="1151"/><line x1="1587.5" x2="1587.5" y1="1142" y2="1146"/><line x1="1646.0" x2="1646.0" y1="1142" y2="1146"/><line x1="1704.5" x2="1704.5" y1="1142" y2="1146"/><line x1="1763.0" x2="1763.0" y1="1142" y2="1146"/><line x1="1821.5" x2="1821.5" y1="1142" y2="1151"/></g>
<text transform="translate(53.6,1147.6) scale(0.819,1)" font-size="29" text-anchor="end" fill="#000" font-family="'Liberation Sans', sans-serif" font-weight="bold">0</text>
<text transform="translate(1866.6,1147.6) scale(0.819,1)" font-size="29" text-anchor="start" fill="#000" font-family="'Liberation Sans', sans-serif" font-weight="bold">0</text>
<text transform="translate(53.6,930.7) scale(0.819,1)" font-size="29" text-anchor="end" fill="#000" font-family="'Liberation Sans', sans-serif" font-weight="bold">20</text>
<text transform="translate(1866.6,930.7) scale(0.819,1)" font-size="29" text-anchor="start" fill="#000" font-family="'Liberation Sans', sans-serif" font-weight="bold">20</text>
<text transform="translate(53.6,713.8) scale(0.819,1)" font-size="29" text-anchor="end" fill="#000" font-family="'Liberation Sans', sans-serif" font-weight="bold">40</text>
<text transform="translate(1866.6,713.8) scale(0.819,1)" font-size="29" text-anchor="start" fill="#000" font-family="'Liberation Sans', sans-serif" font-weight="bold">40</text>
<text transform="translate(53.6,496.8) scale(0.819,1)" font-size="29" text-anchor="end" fill="#000" font-family="'Liberation Sans', sans-serif" font-weight="bold">60</text>
<text transform="translate(1866.6,496.8) scale(0.819,1)" font-size="29" text-anchor="start" fill="#000" font-family="'Liberation Sans', sans-serif" font-weight="bold">60</text>
<text transform="translate(53.6,279.9) scale(0.819,1)" font-size="29" text-anchor="end" fill="#000" font-family="'Liberation Sans', sans-serif" font-weight="bold">80</text>
<text transform="translate(1866.6,279.9) scale(0.819,1)" font-size="29" text-anchor="start" fill="#000" font-family="'Liberation Sans', sans-serif" font-weight="bold">80</text>
<text transform="translate(53.6,63.0) scale(0.819,1)" font-size="29" text-anchor="end" fill="#000" font-family="'Liberation Sans', sans-serif" font-weight="bold">100</text>
<text transform="translate(1866.6,63.0) scale(0.819,1)" font-size="29" text-anchor="start" fill="#000" font-family="'Liberation Sans', sans-serif" font-weight="bold">100</text>
<text transform="translate(72.8,1180) scale(0.819,1)" font-size="29" text-anchor="middle" fill="#000" font-family="'Liberation Sans', sans-serif" font-weight="bold">1995</text>
<text transform="translate(365.3,1180) scale(0.819,1)" font-size="29" text-anchor="middle" fill="#000" font-family="'Liberation Sans', sans-serif" font-weight="bold">2000</text>
<text transform="translate(656.3,1180) scale(0.819,1)" font-size="29" text-anchor="middle" fill="#000" font-family="'Liberation Sans', sans-serif" font-weight="bold">2005</text>
<text transform="translate(947.3,1180) scale(0.819,1)" font-size="29" text-anchor="middle" fill="#000" font-family="'Liberation Sans', sans-serif" font-weight="bold">2010</text>
<text transform="translate(1238.3,1180) scale(0.819,1)" font-size="29" text-anchor="middle" fill="#000" font-family="'Liberation Sans', sans-serif" font-weight="bold">2015</text>
<text transform="translate(1529.3,1180) scale(0.819,1)" font-size="29" text-anchor="middle" fill="#000" font-family="'Liberation Sans', sans-serif" font-weight="bold">2020</text>
<text transform="translate(1821.8,1180) scale(0.819,1)" font-size="29" text-anchor="middle" fill="#000" font-family="'Liberation Sans', sans-serif" font-weight="bold">2025</text>
<rect x="77" y="61" width="909" height="106.3" fill="#2e7d72"/>
<text transform="translate(531.3,100.5) scale(0.8242,1)" font-size="38.4" text-anchor="middle" fill="#fff" font-family="'Liberation Sans', sans-serif" font-weight="bold">S&amp;P 500 COMMUNICATION EQUIPMENT: FORWARD P/E*</text>
<text transform="translate(531.7,150) scale(0.846,1)" font-size="38.4" text-anchor="middle" fill="#fff" font-family="'Liberation Sans', sans-serif" font-weight="bold">(daily)</text>
<rect x="78.7" y="172.7" width="437.6" height="75.1" fill="#fff" stroke="#000" stroke-width="3.3"/>
<line x1="86" x2="140" y1="192.3" y2="192.3" stroke="#0000ff" stroke-width="4"/>
<rect x="86" y="214" width="54" height="21" fill="#dadada"/>
<text transform="translate(148.8,200.1) scale(0.8329,1)" font-size="29" text-anchor="start" fill="#000" font-family="'Liberation Sans', sans-serif" font-weight="bold">Forward P/E* (Jun 20 = 19.6)</text>
<text transform="translate(148.8,232) scale(0.8329,1)" font-size="29" text-anchor="start" fill="#000" font-family="'Liberation Sans', sans-serif" font-weight="bold">Recession</text>
<text transform="translate(75.2,1225.9) scale(0.8277,1)" font-size="29" text-anchor="start" fill="#000" font-family="'Liberation Sans', sans-serif" font-weight="bold">Source: LSEG Datastream and © Yardeni Research. Standard &amp; Poor's.</text>
<text transform="translate(75.2,1264.6) scale(0.8291,1)" font-size="29" text-anchor="start" fill="#000" font-family="'Liberation Sans', sans-serif" font-weight="bold">* Price divided by 12-month forward consensus expected operating earnings per share.</text>
</svg>
</body></html>
